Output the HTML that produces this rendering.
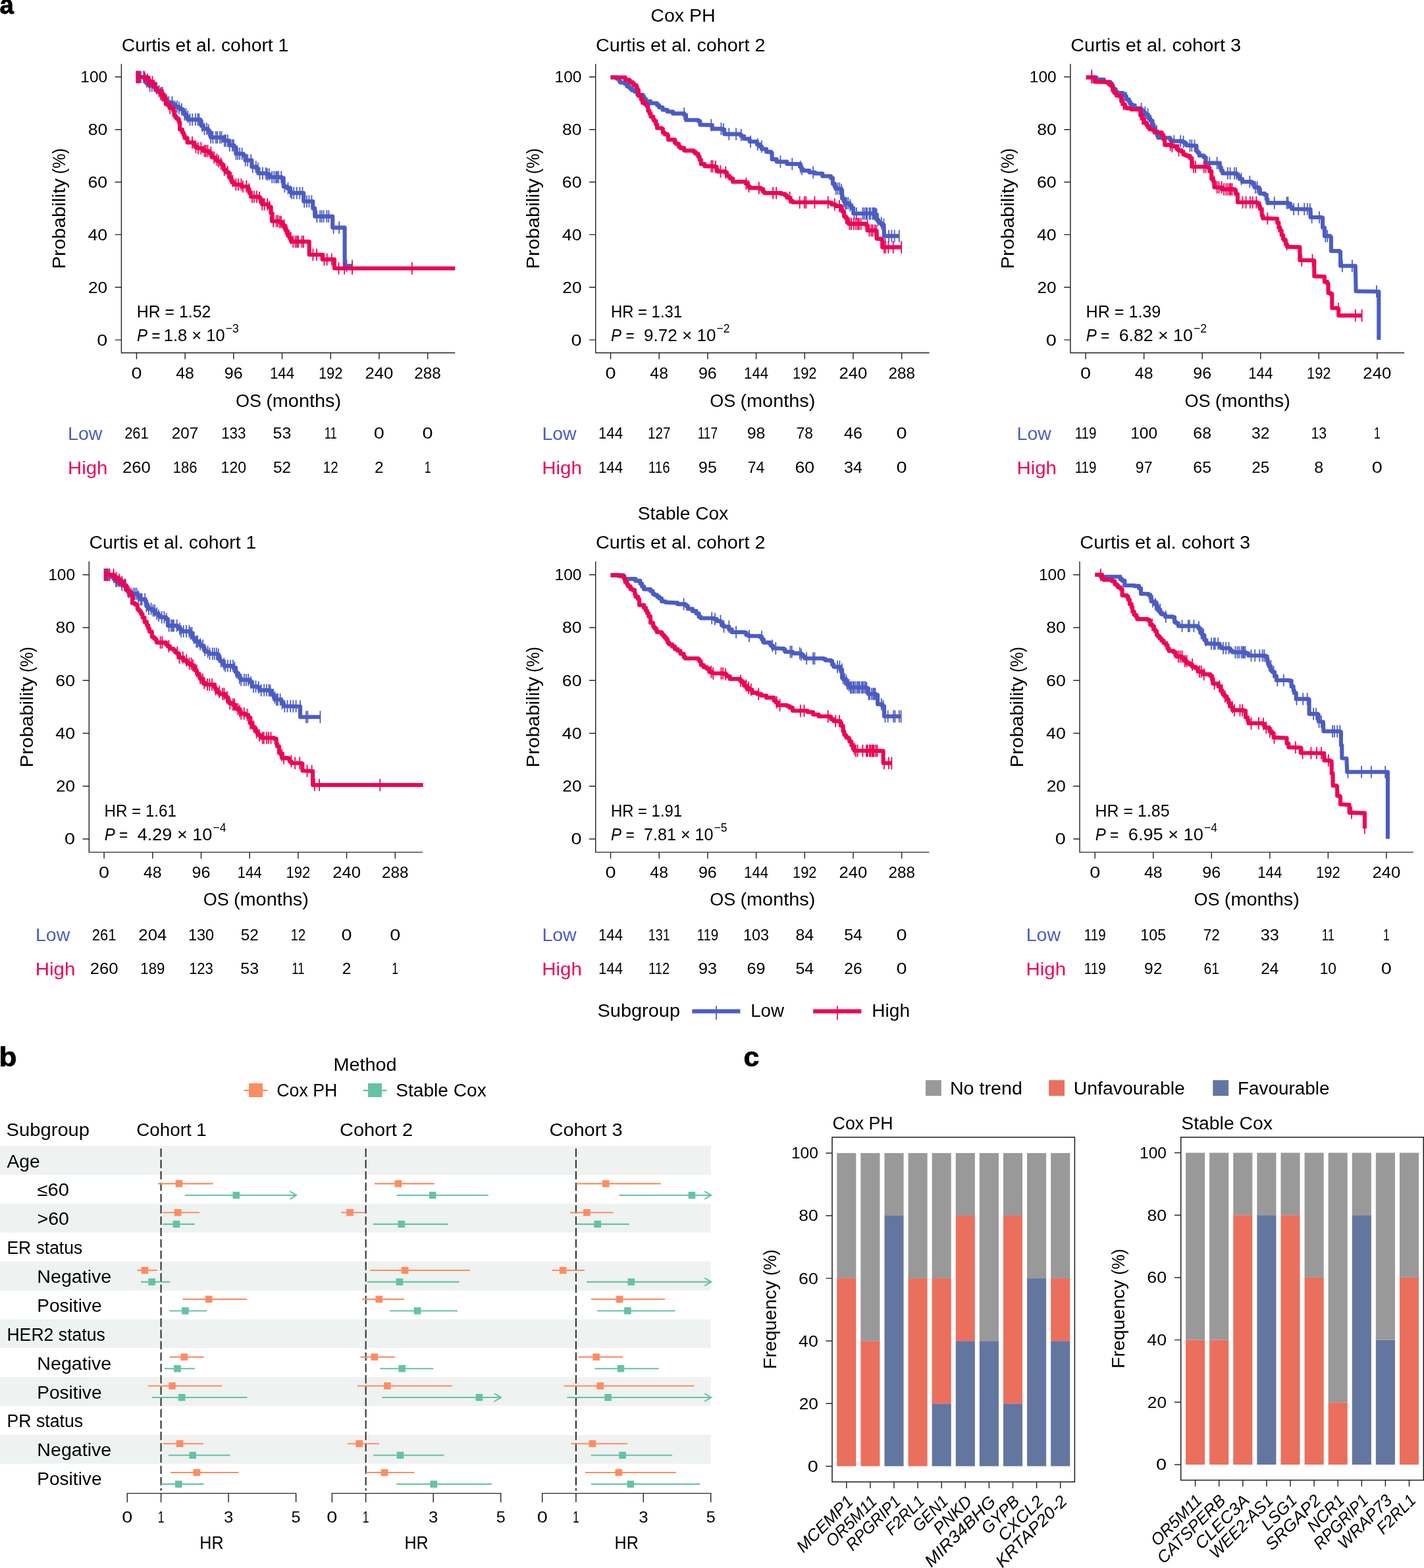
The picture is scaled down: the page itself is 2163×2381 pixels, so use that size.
<!DOCTYPE html>
<html lang="en">
<head>
<meta charset="utf-8">
<title>Figure: Cox PH versus Stable Cox</title>
<style>
html,body{margin:0;padding:0;background:#fff}
body{width:2163px;height:2381px;overflow:hidden}
svg{display:block}
text{font-family:"Liberation Sans",sans-serif}
</style>
</head>
<body>
<svg width="2163" height="2381" viewBox="0 0 2163 2381" role="img" aria-label="Kaplan-Meier curves, forest plot and frequency bar charts comparing Cox PH and Stable Cox">
<rect width="2163" height="2381" fill="#fff"/>
<text x="-0.6" y="20.6" font-size="40" textLength="21.4" lengthAdjust="spacingAndGlyphs" font-weight="bold" stroke="#000" stroke-width="0.8">a</text>
<text x="-1.6" y="1619.4" font-size="40" textLength="27" lengthAdjust="spacingAndGlyphs" font-weight="bold" stroke="#000" stroke-width="0.8">b</text>
<text x="1129.6" y="1619.3" font-size="40" textLength="23.8" lengthAdjust="spacingAndGlyphs" font-weight="bold" stroke="#000" stroke-width="0.8">c</text>
<text x="1037.5" y="33.4" font-size="27" text-anchor="middle" textLength="98.5" lengthAdjust="spacingAndGlyphs">Cox PH</text>
<text x="1037.5" y="789.3" font-size="27" text-anchor="middle" textLength="137.6" lengthAdjust="spacingAndGlyphs">Stable Cox</text>
<path d="M184.4 97.1V535.8H691.3" fill="none" stroke="#262626" stroke-width="1.45"/>
<text x="163.2" y="524.5" font-size="23.2" text-anchor="end" textLength="16.04" lengthAdjust="spacingAndGlyphs">0</text>
<text x="163.2" y="444.64" font-size="23.2" text-anchor="end" textLength="29.15" lengthAdjust="spacingAndGlyphs">20</text>
<text x="163.2" y="364.78" font-size="23.2" text-anchor="end" textLength="29.73" lengthAdjust="spacingAndGlyphs">40</text>
<text x="163.2" y="284.92" font-size="23.2" text-anchor="end" textLength="29.73" lengthAdjust="spacingAndGlyphs">60</text>
<text x="163.2" y="205.06" font-size="23.2" text-anchor="end" textLength="29.5" lengthAdjust="spacingAndGlyphs">80</text>
<text x="163.2" y="125.2" font-size="23.2" text-anchor="end" textLength="40.87" lengthAdjust="spacingAndGlyphs">100</text>
<text x="207.44" y="574.7" font-size="23.2" text-anchor="middle" textLength="16.04" lengthAdjust="spacingAndGlyphs">0</text>
<text x="281.13" y="574.7" font-size="23.2" text-anchor="middle" textLength="27.64" lengthAdjust="spacingAndGlyphs">48</text>
<text x="354.83" y="574.7" font-size="23.2" text-anchor="middle" textLength="27.88" lengthAdjust="spacingAndGlyphs">96</text>
<text x="428.52" y="574.7" font-size="23.2" text-anchor="middle" textLength="37.16" lengthAdjust="spacingAndGlyphs">144</text>
<text x="502.21" y="574.7" font-size="23.2" text-anchor="middle" textLength="36.58" lengthAdjust="spacingAndGlyphs">192</text>
<text x="575.91" y="574.7" font-size="23.2" text-anchor="middle" textLength="42.84" lengthAdjust="spacingAndGlyphs">240</text>
<text x="649.6" y="574.7" font-size="23.2" text-anchor="middle" textLength="40.52" lengthAdjust="spacingAndGlyphs">288</text>
<path d="M174.7 516.1H184.4M174.7 436.24H184.4M174.7 356.38H184.4M174.7 276.52H184.4M174.7 196.66H184.4M174.7 116.8H184.4M207.44 535.8v9.7M281.13 535.8v9.7M354.83 535.8v9.7M428.52 535.8v9.7M502.21 535.8v9.7M575.91 535.8v9.7M649.6 535.8v9.7" fill="none" stroke="#262626" stroke-width="1.45"/>
<text x="184.7" y="78.4" font-size="27" textLength="253.7" lengthAdjust="spacingAndGlyphs">Curtis et al. cohort 1</text>
<text font-size="27" transform="translate(98.8 408.6) rotate(-90)"><tspan x="0" textLength="137.7" lengthAdjust="spacingAndGlyphs">Probability</tspan><tspan x="137.4" textLength="46.1" lengthAdjust="spacingAndGlyphs"> (%)</tspan></text>
<text font-size="27" transform="translate(437.85 617.9)"><tspan x="-79.9" textLength="39" lengthAdjust="spacingAndGlyphs">OS</tspan><tspan x="-41.7" textLength="122" lengthAdjust="spacingAndGlyphs"> (months)</tspan></text>
<path d="M207.1 117L216.3 117L219.12 117L219.12 119.48L221 119.48L221 123.67L223.4 123.67L223.4 127L226.98 127L226.98 130.15L236.2 130.15L236.2 134.1L239.03 134.1L239.03 138.64L243.3 138.64L243.3 141.2L247.15 141.2L247.15 144.08L248.7 144.08L248.7 147.92L250.46 147.92L250.46 151.28L253.2 151.28L253.2 155.4L261.7 155.4L261.7 158.2L265.18 158.2L265.18 162.09L271.7 162.09L271.7 163.9L273.48 163.9L273.48 166.05L277.95 166.05L277.95 170.59L280.2 170.59L280.2 173.8L282.63 173.8L282.63 177.37L285.9 177.37L285.9 181.6L301.5 181.6L304.31 181.6L304.31 184.24L305.8 184.24L305.8 190.9L308.79 190.9L308.79 195.78L315.7 195.78L315.7 198L317.87 198L317.87 201.35L320 201.35L320 208.6L337 208.6L339.8 208.6L339.8 213.6L345.5 213.6L348.4 213.6L348.4 220.7L355.5 220.7L355.5 223.5L358.3 223.5L358.3 233.5L369.7 233.5L369.7 236.3L372.5 236.3L372.5 243.4L379.6 243.4L382.4 243.4L382.4 253.4L389.5 253.4L389.5 256.2L392.4 256.2L392.4 263.3L405.2 263.3L405.2 264.7L409.4 264.7L409.4 269L427.9 269L427.9 270.4L430.7 270.4L430.7 283.2L436.4 283.2L436.4 286L440.5 286L440.5 290.98L442.1 290.98L442.1 293.1L455 293.1L458.3 293.1L461.2 293.1L461.2 305.8L473.9 305.8L475.3 305.8L475.3 316.41L478.2 316.41L478.2 328.6L503.8 328.6L505.2 328.6L505.2 345.6L523.6 345.6L523.6 403.8L535 403.8" fill="none" stroke="#4b5cc4" stroke-width="6.1" stroke-linejoin="round"/>
<path d="M207.2 108.4v17.2M208.5 108.4v17.2M210.1 108.4v17.2M212.2 108.4v17.2M214 108.4v17.2M218.2 108.4v17.2M220.4 110.88v17.2M222.9 115.07v17.2M227.5 121.55v17.2M230.8 121.55v17.2M234.2 121.55v17.2M238.1 125.5v17.2M241.6 130.04v17.2M244.8 132.6v17.2M246.9 132.6v17.2M251.2 142.68v17.2M256.3 146.8v17.2M261.5 146.8v17.2M265.6 153.49v17.2M268.8 153.49v17.2M271.9 155.3v17.2M276.1 157.45v17.2M280.3 165.2v17.2M282.6 165.2v17.2M285.4 168.77v17.2M288.5 173v17.2M292.2 173v17.2M296.8 173v17.2M300.4 173v17.2M302.4 173v17.2M307.1 182.3v17.2M310.5 187.18v17.2M314.1 187.18v17.2M316.8 189.4v17.2M320.2 200v17.2M323.4 200v17.2M327.9 200v17.2M330.2 200v17.2M334 200v17.2M336.5 200v17.2M340.8 205v17.2M342.9 205v17.2M345.8 205v17.2M348.8 212.1v17.2M352.9 212.1v17.2M355 212.1v17.2M358.5 224.9v17.2M361.2 224.9v17.2M364.1 224.9v17.2M367.6 224.9v17.2M372.7 234.8v17.2M376.2 234.8v17.2M381.3 234.8v17.2M383.8 244.8v17.2M388.8 244.8v17.2M391.9 247.6v17.2M394.5 254.7v17.2M398.9 254.7v17.2M403.9 254.7v17.2M405.9 256.1v17.2M408.7 256.1v17.2M413.2 260.4v17.2M416.3 260.4v17.2M419.1 260.4v17.2M421.1 260.4v17.2M423.2 260.4v17.2M427.2 260.4v17.2M432.3 274.6v17.2M437.5 277.4v17.2M441.1 282.38v17.2M443.2 284.5v17.2M446.2 284.5v17.2M450.8 284.5v17.2M455.4 284.5v17.2M459.5 284.5v17.2M462.2 297.2v17.2M465.9 297.2v17.2M469.4 297.2v17.2M473.4 297.2v17.2M476.3 307.81v17.2M481.3 320v17.2M486.2 320v17.2M488.7 320v17.2M491.6 320v17.2M496.4 320v17.2M499.3 320v17.2M506.6 337v17.2M515.1 337v17.2M526.5 395.2v17.2M535 395.2v17.2" fill="none" stroke="#4b5cc4" stroke-width="1.8" stroke-linecap="round"/>
<path d="M207.1 117L216.3 117L223.4 117L223.4 121.3L226.73 121.3L226.73 124.63L231.9 124.63L231.9 127L235.22 127L235.22 133.51L237.6 133.51L237.6 136.9L239.64 136.9L239.64 139.06L243.3 139.06L243.3 142.6L245.72 142.6L245.72 144.75L250.4 144.75L250.4 148.3L251.8 148.3L251.8 158.2L255.25 158.2L255.25 160.1L257.5 160.1L257.5 163.9L263.2 163.9L263.2 168.2L264.6 168.2L264.6 175.3L266.59 175.3L266.59 178.43L268.9 178.43L268.9 180.85L271.7 180.85L271.7 185.2L273.1 185.2L273.1 196.6L276.82 196.6L276.82 201.26L278.8 201.26L278.8 205.1L280.4 205.1L280.4 209.61L284.5 209.61L284.5 216.4L294.4 216.4L294.4 219.3L296.34 219.3L296.34 223.1L300.1 223.1L300.1 225L308.6 225L308.6 229.2L317.1 229.2L317.1 232.1L320.74 232.1L320.74 236.63L322.8 236.63L322.8 239.2L327.39 239.2L327.39 242.62L329.9 242.62L329.9 244.8L334.89 244.8L334.89 248.4L337 248.4L337 250.5L339.8 250.5L339.8 257.6L342.57 257.6L342.57 261.35L346.9 261.35L346.9 263.3L349.02 263.3L349.02 270.31L351.2 270.31L351.2 274.7L353.47 274.7L353.47 277.32L355.5 277.32L355.5 280.3L366.8 280.3L366.8 283.2L376.8 283.2L376.8 287.4L378.64 287.4L378.64 292.74L381 292.74L381 298.8L393.8 298.8L393.8 300.2L395.59 300.2L395.59 303.48L398.1 303.48L398.1 310.2L408 310.2L408 314.4L411.67 314.4L411.67 324.29L413.7 324.29L413.7 330L412.9 330L412.9 335.7L424.2 335.7L424.2 337.1L428.3 337.1L428.3 340L430.25 340L430.25 342.19L431.8 342.19L431.8 346.1L434.27 346.1L434.27 349.76L435.6 349.76L435.6 354.1L437.55 354.1L437.55 357.91L439.87 357.91L439.87 361.44L442.7 361.44L442.7 366.9L468.3 366.9L469.7 366.9L469.7 386.8L486.7 386.8L489.6 386.8L489.6 393.9L506.6 393.9L508 393.9L508 407.5L691.2 407.5" fill="none" stroke="#ee0456" stroke-width="6.1" stroke-linejoin="round"/>
<path d="M207.6 108.4v17.2M209.7 108.4v17.2M211.4 108.4v17.2M219 108.4v17.2M224 112.7v17.2M226.9 116.03v17.2M227.8 116.03v17.2M231.6 116.03v17.2M244 134v17.2M246.2 136.15v17.2M247.7 136.15v17.2M258.2 155.3v17.2M292 207.8v17.2M297.4 214.5v17.2M300.8 216.4v17.2M305.3 216.4v17.2M310.6 220.6v17.2M312.8 220.6v17.2M315.4 220.6v17.2M320.3 223.5v17.2M325.2 230.6v17.2M329.5 234.02v17.2M332.1 236.2v17.2M335.6 239.8v17.2M340.7 249v17.2M345.8 252.75v17.2M350.7 261.71v17.2M353.4 266.1v17.2M358.4 271.7v17.2M361.8 271.7v17.2M366.4 271.7v17.2M368.9 274.6v17.2M374.3 274.6v17.2M378.5 278.8v17.2M383 290.2v17.2M385.9 290.2v17.2M390.1 290.2v17.2M394.1 291.6v17.2M398.2 301.6v17.2M401.6 301.6v17.2M406.1 301.6v17.2M409.4 305.8v17.2M412.5 315.69v17.2M415.2 327.1v17.2M419.6 327.1v17.2M422.1 327.1v17.2M424.9 328.5v17.2M427.2 328.5v17.2M431.5 333.59v17.2M435.5 341.16v17.2M439.5 349.31v17.2M441.7 352.84v17.2M445.3 358.3v17.2M448.6 358.3v17.2M451 358.3v17.2M453.1 358.3v17.2M458.6 358.3v17.2M461.1 358.3v17.2M475.4 378.2v17.2M481 378.2v17.2M492.4 385.3v17.2M496.7 385.3v17.2M503.8 385.3v17.2M514.5 398.9v17.2M523.1 398.9v17.2M535 398.9v17.2M625.9 398.9v17.2" fill="none" stroke="#ee0456" stroke-width="1.8" stroke-linecap="round"/>
<text x="207.84" y="481.9" font-size="26.2" textLength="112.5" lengthAdjust="spacingAndGlyphs">HR = 1.52</text>
<text x="208.04" y="517.8" font-size="26.2"><tspan font-style="italic" textLength="16" lengthAdjust="spacingAndGlyphs">P</tspan><tspan textLength="25.9" lengthAdjust="spacingAndGlyphs"> = </tspan><tspan x="248.84" textLength="92.9" lengthAdjust="spacingAndGlyphs">1.8 × 10</tspan><tspan x="342.84" font-size="18.3" dy="-13.2" textLength="20" lengthAdjust="spacingAndGlyphs">−3</tspan></text>
<text x="103.1" y="668" font-size="27" textLength="52.3" lengthAdjust="spacingAndGlyphs" fill="#4b5cc4">Low</text>
<text x="102.9" y="719.8" font-size="27" textLength="60.6" lengthAdjust="spacingAndGlyphs" fill="#ee0456">High</text>
<text x="207.44" y="666.4" font-size="23.2" text-anchor="middle" textLength="36.58" lengthAdjust="spacingAndGlyphs">261</text>
<text x="207.44" y="718.4" font-size="23.2" text-anchor="middle" textLength="42.84" lengthAdjust="spacingAndGlyphs">260</text>
<text x="281.13" y="666.4" font-size="23.2" text-anchor="middle" textLength="40.52" lengthAdjust="spacingAndGlyphs">207</text>
<text x="281.13" y="718.4" font-size="23.2" text-anchor="middle" textLength="36.92" lengthAdjust="spacingAndGlyphs">186</text>
<text x="354.83" y="666.4" font-size="23.2" text-anchor="middle" textLength="37.39" lengthAdjust="spacingAndGlyphs">133</text>
<text x="354.83" y="718.4" font-size="23.2" text-anchor="middle" textLength="38.43" lengthAdjust="spacingAndGlyphs">120</text>
<text x="428.52" y="666.4" font-size="23.2" text-anchor="middle" textLength="27.76" lengthAdjust="spacingAndGlyphs">53</text>
<text x="428.52" y="718.4" font-size="23.2" text-anchor="middle" textLength="27.06" lengthAdjust="spacingAndGlyphs">52</text>
<text x="502.21" y="666.4" font-size="23.2" text-anchor="middle" textLength="19.06" lengthAdjust="spacingAndGlyphs">11</text>
<text x="502.21" y="718.4" font-size="23.2" text-anchor="middle" textLength="22.89" lengthAdjust="spacingAndGlyphs">12</text>
<text x="575.91" y="666.4" font-size="23.2" text-anchor="middle" textLength="16.04" lengthAdjust="spacingAndGlyphs">0</text>
<text x="575.91" y="718.4" font-size="23.2" text-anchor="middle" textLength="13.61" lengthAdjust="spacingAndGlyphs">2</text>
<text x="649.6" y="666.4" font-size="23.2" text-anchor="middle" textLength="16.04" lengthAdjust="spacingAndGlyphs">0</text>
<text x="649.6" y="718.4" font-size="23.2" text-anchor="middle" textLength="9.78" lengthAdjust="spacingAndGlyphs">1</text>
<path d="M904.7 97.1V535.8H1411.5" fill="none" stroke="#262626" stroke-width="1.45"/>
<text x="883.5" y="524.5" font-size="23.2" text-anchor="end" textLength="16.04" lengthAdjust="spacingAndGlyphs">0</text>
<text x="883.5" y="444.64" font-size="23.2" text-anchor="end" textLength="29.15" lengthAdjust="spacingAndGlyphs">20</text>
<text x="883.5" y="364.78" font-size="23.2" text-anchor="end" textLength="29.73" lengthAdjust="spacingAndGlyphs">40</text>
<text x="883.5" y="284.92" font-size="23.2" text-anchor="end" textLength="29.73" lengthAdjust="spacingAndGlyphs">60</text>
<text x="883.5" y="205.06" font-size="23.2" text-anchor="end" textLength="29.5" lengthAdjust="spacingAndGlyphs">80</text>
<text x="883.5" y="125.2" font-size="23.2" text-anchor="end" textLength="40.87" lengthAdjust="spacingAndGlyphs">100</text>
<text x="927.5" y="574.7" font-size="23.2" text-anchor="middle" textLength="16.04" lengthAdjust="spacingAndGlyphs">0</text>
<text x="1001.19" y="574.7" font-size="23.2" text-anchor="middle" textLength="27.64" lengthAdjust="spacingAndGlyphs">48</text>
<text x="1074.89" y="574.7" font-size="23.2" text-anchor="middle" textLength="27.88" lengthAdjust="spacingAndGlyphs">96</text>
<text x="1148.58" y="574.7" font-size="23.2" text-anchor="middle" textLength="37.16" lengthAdjust="spacingAndGlyphs">144</text>
<text x="1222.27" y="574.7" font-size="23.2" text-anchor="middle" textLength="36.58" lengthAdjust="spacingAndGlyphs">192</text>
<text x="1295.97" y="574.7" font-size="23.2" text-anchor="middle" textLength="42.84" lengthAdjust="spacingAndGlyphs">240</text>
<text x="1369.66" y="574.7" font-size="23.2" text-anchor="middle" textLength="40.52" lengthAdjust="spacingAndGlyphs">288</text>
<path d="M895 516.1H904.7M895 436.24H904.7M895 356.38H904.7M895 276.52H904.7M895 196.66H904.7M895 116.8H904.7M927.5 535.8v9.7M1001.19 535.8v9.7M1074.89 535.8v9.7M1148.58 535.8v9.7M1222.27 535.8v9.7M1295.97 535.8v9.7M1369.66 535.8v9.7" fill="none" stroke="#262626" stroke-width="1.45"/>
<text x="905" y="78.4" font-size="27" textLength="257.4" lengthAdjust="spacingAndGlyphs">Curtis et al. cohort 2</text>
<text font-size="27" transform="translate(819.1 408.6) rotate(-90)"><tspan x="0" textLength="137.7" lengthAdjust="spacingAndGlyphs">Probability</tspan><tspan x="137.4" textLength="46.1" lengthAdjust="spacingAndGlyphs"> (%)</tspan></text>
<text font-size="27" transform="translate(1158.1 617.9)"><tspan x="-79.9" textLength="39" lengthAdjust="spacingAndGlyphs">OS</tspan><tspan x="-41.7" textLength="122" lengthAdjust="spacingAndGlyphs"> (months)</tspan></text>
<path d="M927.5 117.5L936.9 117.5L936.9 119.8L940.84 119.8L940.84 123.8L942.6 123.8L942.6 125.5L949.3 125.5L949.3 127.28L952.5 127.28L952.5 131.2L956.34 131.2L956.34 133.85L959.6 133.85L959.6 136.9L964.02 136.9L964.02 139.27L968.2 139.27L968.2 144L976.7 144L976.7 146.8L978.22 146.8L978.22 150.17L980.9 150.17L980.9 153.9L988 153.9L988 156.7L998 156.7L998 159.6L1001.18 159.6L1001.18 163.01L1006.5 163.01L1006.5 166.7L1013.6 166.7L1013.6 169.5L1022.1 169.5L1022.1 172.4L1039.2 172.4L1039.2 174.6L1042 174.6L1042 182.3L1060.5 182.3L1060.5 183.7L1063.3 183.7L1063.3 189.4L1078.9 190L1081.8 190L1081.8 195.6L1097.4 195.6L1097.4 196.5L1100.2 196.5L1100.2 203.6L1124.4 203.6L1124.4 205L1126 205L1126 206.79L1130 206.79L1130 210.7L1138.6 210.7L1138.6 215L1149.9 215L1149.9 219.2L1154.12 219.2L1154.12 222.5L1157 222.5L1157 226.3L1164.1 226.3L1164.1 230.6L1171.2 230.6L1171.2 232L1172.6 232L1172.6 241.9L1179.7 241.9L1179.7 245.6L1195.4 245.6L1195.4 249L1215.2 249L1215.2 253.3L1217.37 253.3L1217.37 256.75L1219.5 256.75L1219.5 259L1229.4 259L1229.4 261.8L1238.09 261.8L1238.09 263.52L1249.3 263.52L1249.3 267.5L1262.1 267.5L1262.1 270.3L1264.9 270.3L1264.9 278.9L1267.6 278.9L1267.6 283L1269.2 283L1269.2 286.5L1277.7 286.5L1277.7 288.8L1279.1 288.8L1279.1 301.6L1281.56 301.6L1281.56 305.54L1283.4 305.54L1283.4 308.7L1290.45 308.7L1290.45 311.81L1293.3 311.81L1293.3 315.8L1296.2 315.8L1296.2 324.3L1328.8 324.3L1328.8 325.7L1331.7 325.7L1331.7 333.7L1334.18 333.7L1334.18 337.05L1336.73 337.05L1336.73 338.75L1338.8 338.75L1338.8 341.3L1342.5 341.3L1342.5 342.8L1343 358.4L1365.8 358.4" fill="none" stroke="#4b5cc4" stroke-width="6.1" stroke-linejoin="round"/>
<path d="M1039.2 163.8v17.2M1080.3 181.4v17.2M1095.4 187v17.2M1098.8 187.9v17.2M1107.3 195v17.2M1118.1 195v17.2M1125.8 196.4v17.2M1140 206.4v17.2M1150.8 210.6v17.2M1157 213.9v17.2M1185.4 237v17.2M1203.3 240.4v17.2M1215.8 244.7v17.2M1218.1 248.15v17.2M1235.1 253.2v17.2M1269.8 277.9v17.2M1272.6 277.9v17.2M1275.4 277.9v17.2M1278.3 280.2v17.2M1282 296.94v17.2M1284.2 300.1v17.2M1285.8 300.1v17.2M1288.3 300.1v17.2M1291.4 303.21v17.2M1297.6 315.7v17.2M1301 315.7v17.2M1310.4 315.7v17.2M1312.7 315.7v17.2M1315.4 315.7v17.2M1317.1 315.7v17.2M1320.3 315.7v17.2M1322.3 315.7v17.2M1325.4 315.7v17.2M1327.1 315.7v17.2M1328.7 315.7v17.2M1330.2 317.1v17.2M1331.6 317.1v17.2M1333.6 325.1v17.2M1338.8 330.15v17.2M1342.5 332.7v17.2M1344.5 349.8v17.2M1350.1 349.8v17.2M1354.4 349.8v17.2M1358.7 349.8v17.2M1365.8 349.8v17.2" fill="none" stroke="#4b5cc4" stroke-width="1.8" stroke-linecap="round"/>
<path d="M927.5 117.5L944 117.5L949.7 117.5L949.7 121.2L956.49 121.2L956.49 124.92L961.1 124.92L961.1 126.9L962.99 126.9L962.99 129.61L966.89 129.61L966.89 133.59L968.2 133.59L968.2 136.9L969.97 136.9L969.97 145.65L973.8 145.65L973.8 151.1L975.96 151.1L975.96 156.14L979.69 156.14L979.69 158.14L982.4 158.14L982.4 161L984.39 161L984.39 168.58L986.6 168.58L986.6 172.4L988.27 172.4L988.27 177.1L992.36 177.1L992.36 181.42L993.7 181.42L993.7 183.7L996.31 183.7L996.31 188.83L998 188.83L998 194.5L1005.1 194.5L1005.1 195.6L1006.83 195.6L1006.83 201.23L1009.3 201.23L1009.3 203.6L1013.6 203.6L1013.6 205.9L1015 205.9L1015 212.1L1025 212.1L1025 216.4L1026.88 216.4L1026.88 218.56L1031.03 218.56L1031.03 222.74L1033.5 222.74L1033.5 224.9L1039.2 224.9L1039.2 228.6L1053.4 228.6L1053.4 230.6L1056.4 230.6L1056.4 233.53L1060.5 233.53L1060.5 237.7L1062.68 237.7L1062.68 242.67L1064.7 242.67L1064.7 249L1070.4 249L1070.4 252.4L1084.6 252.4L1084.6 253.3L1088.46 253.3L1088.46 258.21L1090.3 258.21L1090.3 260.4L1101.6 260.4L1101.6 261.8L1103.98 261.8L1103.98 266.61L1107.3 266.61L1107.3 268.9L1109.05 268.9L1109.05 271.16L1113 271.16L1113 276L1132.9 276L1132.9 278.9L1136.17 278.9L1136.17 283.02L1138.6 283.02L1138.6 285.4L1155.6 285.4L1155.6 287.4L1159.27 287.4L1159.27 291.51L1161.3 291.51L1161.3 293.1L1186.8 293.1L1186.8 294.5L1192.49 294.5L1192.49 296.75L1195.4 296.75L1195.4 300.2L1200.58 300.2L1200.58 305.11L1203.9 305.11L1203.9 307.3L1260.7 307.3L1260.7 308.1L1263.4 308.1L1263.4 310.49L1269.2 310.49L1269.2 312.9L1277.7 312.9L1277.7 317.2L1279.18 317.2L1279.18 321.07L1282 321.07L1282 328.6L1284.83 328.6L1284.83 331.34L1286.75 331.34L1286.75 337.69L1289.1 337.69L1289.1 339.9L1316.1 339.9L1316.1 342.8L1317.5 342.8L1317.5 349.9L1330.3 349.9L1330.3 350.7L1331.7 350.7L1331.7 362.6L1338.8 362.6L1338.8 364.1L1340.2 364.1L1340.2 375.4L1368.6 375.4" fill="none" stroke="#ee0456" stroke-width="6.1" stroke-linejoin="round"/>
<path d="M1080.3 243.8v17.2M1082.6 243.8v17.2M1086.9 244.7v17.2M1094.5 251.8v17.2M1102.2 253.2v17.2M1133.4 270.3v17.2M1137.4 274.42v17.2M1152.8 276.8v17.2M1174.1 284.5v17.2M1179.2 284.5v17.2M1199.6 291.6v17.2M1214.7 298.7v17.2M1221.8 298.7v17.2M1224.3 298.7v17.2M1237.4 298.7v17.2M1257.8 298.7v17.2M1267.8 301.89v17.2M1274.9 304.3v17.2M1290.5 331.3v17.2M1293.1 331.3v17.2M1296.9 331.3v17.2M1300.1 331.3v17.2M1302.8 331.3v17.2M1304.8 331.3v17.2M1307.7 331.3v17.2M1317.5 334.2v17.2M1320.4 341.3v17.2M1323.4 341.3v17.2M1325.7 341.3v17.2M1329 341.3v17.2M1331.4 342.1v17.2M1343 366.8v17.2M1345.3 366.8v17.2M1349.3 366.8v17.2M1356.7 366.8v17.2M1369.2 366.8v17.2" fill="none" stroke="#ee0456" stroke-width="1.8" stroke-linecap="round"/>
<text x="927.9" y="481.9" font-size="26.2" textLength="108.2" lengthAdjust="spacingAndGlyphs">HR = 1.31</text>
<text x="928.1" y="517.8" font-size="26.2"><tspan font-style="italic" textLength="16" lengthAdjust="spacingAndGlyphs">P</tspan><tspan textLength="25.9" lengthAdjust="spacingAndGlyphs"> = </tspan><tspan x="978.1" textLength="109.3" lengthAdjust="spacingAndGlyphs">9.72 × 10</tspan><tspan x="1088.5" font-size="18.3" dy="-13.2" textLength="20" lengthAdjust="spacingAndGlyphs">−2</tspan></text>
<text x="823.4" y="668" font-size="27" textLength="52.3" lengthAdjust="spacingAndGlyphs" fill="#4b5cc4">Low</text>
<text x="823.2" y="719.8" font-size="27" textLength="60.6" lengthAdjust="spacingAndGlyphs" fill="#ee0456">High</text>
<text x="927.5" y="666.4" font-size="23.2" text-anchor="middle" textLength="37.16" lengthAdjust="spacingAndGlyphs">144</text>
<text x="927.5" y="718.4" font-size="23.2" text-anchor="middle" textLength="37.16" lengthAdjust="spacingAndGlyphs">144</text>
<text x="1001.19" y="666.4" font-size="23.2" text-anchor="middle" textLength="34.26" lengthAdjust="spacingAndGlyphs">127</text>
<text x="1001.19" y="718.4" font-size="23.2" text-anchor="middle" textLength="32.75" lengthAdjust="spacingAndGlyphs">116</text>
<text x="1074.89" y="666.4" font-size="23.2" text-anchor="middle" textLength="30.43" lengthAdjust="spacingAndGlyphs">117</text>
<text x="1074.89" y="718.4" font-size="23.2" text-anchor="middle" textLength="27.64" lengthAdjust="spacingAndGlyphs">95</text>
<text x="1148.58" y="666.4" font-size="23.2" text-anchor="middle" textLength="27.64" lengthAdjust="spacingAndGlyphs">98</text>
<text x="1148.58" y="718.4" font-size="23.2" text-anchor="middle" textLength="25.56" lengthAdjust="spacingAndGlyphs">74</text>
<text x="1222.27" y="666.4" font-size="23.2" text-anchor="middle" textLength="25.32" lengthAdjust="spacingAndGlyphs">78</text>
<text x="1222.27" y="718.4" font-size="23.2" text-anchor="middle" textLength="29.73" lengthAdjust="spacingAndGlyphs">60</text>
<text x="1295.97" y="666.4" font-size="23.2" text-anchor="middle" textLength="27.88" lengthAdjust="spacingAndGlyphs">46</text>
<text x="1295.97" y="718.4" font-size="23.2" text-anchor="middle" textLength="27.99" lengthAdjust="spacingAndGlyphs">34</text>
<text x="1369.66" y="666.4" font-size="23.2" text-anchor="middle" textLength="16.04" lengthAdjust="spacingAndGlyphs">0</text>
<text x="1369.66" y="718.4" font-size="23.2" text-anchor="middle" textLength="16.04" lengthAdjust="spacingAndGlyphs">0</text>
<path d="M1625.9 97.1V535.8H2133.1" fill="none" stroke="#262626" stroke-width="1.45"/>
<text x="1604.7" y="524.5" font-size="23.2" text-anchor="end" textLength="16.04" lengthAdjust="spacingAndGlyphs">0</text>
<text x="1604.7" y="444.64" font-size="23.2" text-anchor="end" textLength="29.15" lengthAdjust="spacingAndGlyphs">20</text>
<text x="1604.7" y="364.78" font-size="23.2" text-anchor="end" textLength="29.73" lengthAdjust="spacingAndGlyphs">40</text>
<text x="1604.7" y="284.92" font-size="23.2" text-anchor="end" textLength="29.73" lengthAdjust="spacingAndGlyphs">60</text>
<text x="1604.7" y="205.06" font-size="23.2" text-anchor="end" textLength="29.5" lengthAdjust="spacingAndGlyphs">80</text>
<text x="1604.7" y="125.2" font-size="23.2" text-anchor="end" textLength="40.87" lengthAdjust="spacingAndGlyphs">100</text>
<text x="1649.1" y="574.7" font-size="23.2" text-anchor="middle" textLength="16.04" lengthAdjust="spacingAndGlyphs">0</text>
<text x="1737.64" y="574.7" font-size="23.2" text-anchor="middle" textLength="27.64" lengthAdjust="spacingAndGlyphs">48</text>
<text x="1826.18" y="574.7" font-size="23.2" text-anchor="middle" textLength="27.88" lengthAdjust="spacingAndGlyphs">96</text>
<text x="1914.72" y="574.7" font-size="23.2" text-anchor="middle" textLength="37.16" lengthAdjust="spacingAndGlyphs">144</text>
<text x="2003.26" y="574.7" font-size="23.2" text-anchor="middle" textLength="36.58" lengthAdjust="spacingAndGlyphs">192</text>
<text x="2091.8" y="574.7" font-size="23.2" text-anchor="middle" textLength="42.84" lengthAdjust="spacingAndGlyphs">240</text>
<path d="M1616.2 516.1H1625.9M1616.2 436.24H1625.9M1616.2 356.38H1625.9M1616.2 276.52H1625.9M1616.2 196.66H1625.9M1616.2 116.8H1625.9M1649.1 535.8v9.7M1737.64 535.8v9.7M1826.18 535.8v9.7M1914.72 535.8v9.7M2003.26 535.8v9.7M2091.8 535.8v9.7" fill="none" stroke="#262626" stroke-width="1.45"/>
<text x="1626.2" y="78.4" font-size="27" textLength="258.9" lengthAdjust="spacingAndGlyphs">Curtis et al. cohort 3</text>
<text font-size="27" transform="translate(1540.3 408.6) rotate(-90)"><tspan x="0" textLength="137.7" lengthAdjust="spacingAndGlyphs">Probability</tspan><tspan x="137.4" textLength="46.1" lengthAdjust="spacingAndGlyphs"> (%)</tspan></text>
<text font-size="27" transform="translate(1879.5 617.9)"><tspan x="-79.9" textLength="39" lengthAdjust="spacingAndGlyphs">OS</tspan><tspan x="-41.7" textLength="122" lengthAdjust="spacingAndGlyphs"> (months)</tspan></text>
<path d="M1649.8 117.5L1665.4 117.5L1665.4 120.7L1676.8 120.7L1676.8 124.6L1686.7 124.6L1686.7 126.9L1688.91 126.9L1688.91 131.48L1691 131.48L1691 135.4L1694.73 135.4L1694.73 139.27L1696.7 139.27L1696.7 141.1L1705.2 141.1L1705.2 142.5L1709.03 142.5L1709.03 146.28L1710.9 146.28L1710.9 151.1L1714.9 151.1L1714.9 154.41L1716.6 154.41L1716.6 158.2L1719.53 158.2L1719.53 160.17L1723.7 160.17L1723.7 164.4L1732.2 164.4L1732.2 165.3L1734 165.3L1734 167.91L1736.44 167.91L1736.44 170.75L1739.3 170.75L1739.3 173.8L1743.73 173.8L1743.73 178.16L1746.4 178.16L1746.4 180.9L1747.72 180.9L1747.72 183.47L1750.6 183.47L1750.6 189.4L1752.28 189.4L1752.28 194.58L1754.9 194.58L1754.9 199.3L1757.71 199.3L1757.71 205.65L1759.2 205.65L1759.2 209.3L1773.4 209.3L1777.29 209.3L1777.29 212.05L1779 212.05L1779 214.4L1796.1 214.4L1796.1 215.5L1799.3 215.5L1799.3 217.57L1801.8 217.57L1801.8 220.6L1814.5 221.2L1817.4 221.2L1817.4 229.2L1819.15 229.2L1819.15 231.81L1821.6 231.81L1821.6 236.3L1828.7 236.3L1828.7 239.1L1831.6 239.1L1831.6 247.6L1850 247.6L1852.9 247.6L1852.9 254.7L1855.07 254.7L1855.07 259.36L1857.1 259.36L1857.1 263.2L1878.4 263.2L1878.4 264.7L1880.69 264.7L1880.69 267.9L1882.7 267.9L1882.7 271.8L1887 271.8L1887 276L1901.2 276L1901.2 277.4L1903.16 277.4L1903.16 280.15L1905.4 280.15L1905.4 284.5L1912.5 284.5L1912.5 287.4L1913.9 287.4L1913.9 293.9L1921 293.9L1921 295.9L1923.76 295.9L1923.76 302.44L1925.3 302.44L1925.3 308.1L1956.5 308.1L1956.5 309.2L1959.99 309.2L1959.99 314.32L1962.2 314.32L1962.2 317.2L1987.8 317.8L1990.6 317.8L1990.6 330L2007.7 330L2007.7 330.8L2009.1 330.8L2009.1 345.6L2011.9 345.6L2011.9 358.4L2020.4 358.4L2020.4 359.8L2021.9 359.8L2021.9 381.1L2034.6 381.1L2034.6 382.5L2036.1 382.5L2036.1 403.8L2058.8 403.8L2058.8 404.7L2059.6 442.2L2094.3 442.7L2094.3 516" fill="none" stroke="#4b5cc4" stroke-width="6.1" stroke-linejoin="round"/>
<path d="M1733.6 156.7v17.2M1739.3 162.15v17.2M1743.5 165.2v17.2M1747.8 174.87v17.2M1756.9 190.7v17.2M1783.3 205.8v17.2M1793.2 205.8v17.2M1797.5 206.9v17.2M1807.4 212.3v17.2M1810.3 212.3v17.2M1814.5 212.6v17.2M1837.3 239v17.2M1848.6 239v17.2M1864.8 254.6v17.2M1868.5 254.6v17.2M1875 254.6v17.2M1877.9 254.6v17.2M1885.5 263.2v17.2M1898.3 267.4v17.2M1906.8 275.9v17.2M1909.7 275.9v17.2M1925.3 293.84v17.2M1935.8 299.5v17.2M1954.5 299.5v17.2M1956.5 299.5v17.2M1965.1 308.9v17.2M1972.2 308.9v17.2M1981.2 308.9v17.2M1985.8 308.9v17.2M1989.8 309.2v17.2M1992.6 321.4v17.2M2004 321.4v17.2M2010.5 337v17.2M2013.3 349.8v17.2M2016.2 349.8v17.2M2038.9 395.2v17.2M2053.9 395.2v17.2M2090.9 433.85v17.2M1658.3 106.5v19" fill="none" stroke="#4b5cc4" stroke-width="1.8" stroke-linecap="round"/>
<path d="M1649.8 117.5L1659.8 117.5L1662.6 117.5L1662.6 124.1L1681.1 124.6L1684.02 124.6L1684.02 127.79L1686.7 127.79L1686.7 129.8L1690.18 129.8L1690.18 137.31L1692.4 137.31L1692.4 141.1L1695.83 141.1L1695.83 145.14L1700.9 145.14L1700.9 146.8L1703.18 146.8L1703.18 153.77L1705.2 153.77L1705.2 158.2L1708.7 158.2L1708.7 162.5L1710.9 162.5L1710.9 164.4L1718 164.4L1718 166.1L1729.3 166.1L1732.2 166.1L1732.2 175.2L1734.47 175.2L1734.47 180.22L1737.9 180.22L1737.9 186.6L1741.7 186.6L1741.7 190.04L1743.76 190.04L1743.76 193.57L1746.4 193.57L1746.4 196.5L1751.4 196.5L1751.4 197.84L1753.5 197.84L1753.5 201.3L1764.8 201.3L1764.8 205L1767.38 205L1767.38 211.7L1769.1 211.7L1769.1 220.1L1779 220.1L1779 222.1L1787.6 222.1L1787.6 226.3L1789.53 226.3L1789.53 228.06L1794.24 228.06L1794.24 230.31L1797.5 230.31L1797.5 234.8L1801.67 234.8L1801.67 236.6L1807.4 236.6L1807.4 240L1810.3 240L1810.3 253.3L1835.8 253.3L1835.8 254.7L1837.3 254.7L1837.3 259.97L1840.1 259.97L1840.1 271.8L1842.92 271.8L1842.92 275.77L1844.4 275.77L1844.4 284.5L1855.7 284.5L1855.7 287.4L1875.6 287.4L1875.6 288.8L1877.09 288.8L1877.09 294.53L1879.9 294.53L1879.9 307.3L1909.7 307.3L1909.7 308.7L1912.57 308.7L1912.57 313.13L1913.9 313.13L1913.9 317.2L1916.67 317.2L1916.67 327.32L1918.2 327.32L1918.2 331.4L1938.1 332L1940.19 332L1940.19 338.16L1942.3 338.16L1942.3 345.6L1944.24 345.6L1944.24 350.09L1946.6 350.09L1946.6 357L1948.93 357L1948.93 363.03L1950.9 363.03L1950.9 365.5L1953.01 365.5L1953.01 371.1L1955.1 371.1L1955.1 374.6L1973.6 375.4L1974.4 375.4L1974.4 395.3L1995.4 395.3L1995.4 396.1L1996.3 396.1L1996.3 419.4L2010.5 420L2011.9 420L2011.9 428L2016.2 428L2016.2 430.8L2017.6 430.8L2017.6 445L2021 445L2021 446.4L2023.3 446.4L2023.3 467.7L2031.8 467.7L2031.8 469.1L2033.2 469.1L2033.2 479.1L2068.7 479.1" fill="none" stroke="#ee0456" stroke-width="6.1" stroke-linejoin="round"/>
<path d="M1658.3 108.9v17.2M1706.6 149.6v17.2M1735 171.62v17.2M1777.6 211.5v17.2M1780.5 213.5v17.2M1790.4 219.46v17.2M1813.1 244.7v17.2M1816 244.7v17.2M1828.7 244.7v17.2M1831.6 244.7v17.2M1844.4 267.17v17.2M1848.6 275.9v17.2M1851.5 275.9v17.2M1855.7 275.9v17.2M1859.1 278.8v17.2M1862.3 278.8v17.2M1865.2 278.8v17.2M1867.8 278.8v17.2M1869.4 278.8v17.2M1871.6 278.8v17.2M1887.5 298.7v17.2M1892.6 298.7v17.2M1898.9 298.7v17.2M1902.6 298.7v17.2M1908.3 298.7v17.2M1925.3 323.1v17.2M1954.5 362.5v17.2M1977.3 386.7v17.2M1993.5 386.7v17.2M2033.2 460.5v17.2M2058.8 470.5v17.2M2068.7 470.5v17.2" fill="none" stroke="#ee0456" stroke-width="1.8" stroke-linecap="round"/>
<text x="1649.5" y="481.9" font-size="26.2" textLength="113.8" lengthAdjust="spacingAndGlyphs">HR = 1.39</text>
<text x="1649.7" y="517.8" font-size="26.2"><tspan font-style="italic" textLength="16" lengthAdjust="spacingAndGlyphs">P</tspan><tspan textLength="25.9" lengthAdjust="spacingAndGlyphs"> = </tspan><tspan x="1699.7" textLength="112.1" lengthAdjust="spacingAndGlyphs">6.82 × 10</tspan><tspan x="1812.9" font-size="18.3" dy="-13.2" textLength="20" lengthAdjust="spacingAndGlyphs">−2</tspan></text>
<text x="1544.6" y="668" font-size="27" textLength="52.3" lengthAdjust="spacingAndGlyphs" fill="#4b5cc4">Low</text>
<text x="1544.4" y="719.8" font-size="27" textLength="60.6" lengthAdjust="spacingAndGlyphs" fill="#ee0456">High</text>
<text x="1649.1" y="666.4" font-size="23.2" text-anchor="middle" textLength="32.75" lengthAdjust="spacingAndGlyphs">119</text>
<text x="1649.1" y="718.4" font-size="23.2" text-anchor="middle" textLength="32.75" lengthAdjust="spacingAndGlyphs">119</text>
<text x="1737.64" y="666.4" font-size="23.2" text-anchor="middle" textLength="40.87" lengthAdjust="spacingAndGlyphs">100</text>
<text x="1737.64" y="718.4" font-size="23.2" text-anchor="middle" textLength="25.56" lengthAdjust="spacingAndGlyphs">97</text>
<text x="1826.18" y="666.4" font-size="23.2" text-anchor="middle" textLength="27.64" lengthAdjust="spacingAndGlyphs">68</text>
<text x="1826.18" y="718.4" font-size="23.2" text-anchor="middle" textLength="27.64" lengthAdjust="spacingAndGlyphs">65</text>
<text x="1914.72" y="666.4" font-size="23.2" text-anchor="middle" textLength="27.41" lengthAdjust="spacingAndGlyphs">32</text>
<text x="1914.72" y="718.4" font-size="23.2" text-anchor="middle" textLength="27.06" lengthAdjust="spacingAndGlyphs">25</text>
<text x="2003.26" y="666.4" font-size="23.2" text-anchor="middle" textLength="23.58" lengthAdjust="spacingAndGlyphs">13</text>
<text x="2003.26" y="718.4" font-size="23.2" text-anchor="middle" textLength="13.96" lengthAdjust="spacingAndGlyphs">8</text>
<text x="2091.8" y="666.4" font-size="23.2" text-anchor="middle" textLength="9.78" lengthAdjust="spacingAndGlyphs">1</text>
<text x="2091.8" y="718.4" font-size="23.2" text-anchor="middle" textLength="16.04" lengthAdjust="spacingAndGlyphs">0</text>
<path d="M135.3 852.6V1294.1H641.8" fill="none" stroke="#262626" stroke-width="1.45"/>
<text x="114.1" y="1282.4" font-size="23.2" text-anchor="end" textLength="16.04" lengthAdjust="spacingAndGlyphs">0</text>
<text x="114.1" y="1202.14" font-size="23.2" text-anchor="end" textLength="29.15" lengthAdjust="spacingAndGlyphs">20</text>
<text x="114.1" y="1121.88" font-size="23.2" text-anchor="end" textLength="29.73" lengthAdjust="spacingAndGlyphs">40</text>
<text x="114.1" y="1041.62" font-size="23.2" text-anchor="end" textLength="29.73" lengthAdjust="spacingAndGlyphs">60</text>
<text x="114.1" y="961.36" font-size="23.2" text-anchor="end" textLength="29.5" lengthAdjust="spacingAndGlyphs">80</text>
<text x="114.1" y="881.1" font-size="23.2" text-anchor="end" textLength="40.87" lengthAdjust="spacingAndGlyphs">100</text>
<text x="158.1" y="1333" font-size="23.2" text-anchor="middle" textLength="16.04" lengthAdjust="spacingAndGlyphs">0</text>
<text x="231.79" y="1333" font-size="23.2" text-anchor="middle" textLength="27.64" lengthAdjust="spacingAndGlyphs">48</text>
<text x="305.49" y="1333" font-size="23.2" text-anchor="middle" textLength="27.88" lengthAdjust="spacingAndGlyphs">96</text>
<text x="379.18" y="1333" font-size="23.2" text-anchor="middle" textLength="37.16" lengthAdjust="spacingAndGlyphs">144</text>
<text x="452.87" y="1333" font-size="23.2" text-anchor="middle" textLength="36.58" lengthAdjust="spacingAndGlyphs">192</text>
<text x="526.57" y="1333" font-size="23.2" text-anchor="middle" textLength="42.84" lengthAdjust="spacingAndGlyphs">240</text>
<text x="600.26" y="1333" font-size="23.2" text-anchor="middle" textLength="40.52" lengthAdjust="spacingAndGlyphs">288</text>
<path d="M125.6 1274H135.3M125.6 1193.74H135.3M125.6 1113.48H135.3M125.6 1033.22H135.3M125.6 952.96H135.3M125.6 872.7H135.3M158.1 1294.1v9.7M231.79 1294.1v9.7M305.49 1294.1v9.7M379.18 1294.1v9.7M452.87 1294.1v9.7M526.57 1294.1v9.7M600.26 1294.1v9.7" fill="none" stroke="#262626" stroke-width="1.45"/>
<text x="135.6" y="832.7" font-size="27" textLength="253.7" lengthAdjust="spacingAndGlyphs">Curtis et al. cohort 1</text>
<text font-size="27" transform="translate(49.7 1165.5) rotate(-90)"><tspan x="0" textLength="137.7" lengthAdjust="spacingAndGlyphs">Probability</tspan><tspan x="137.4" textLength="46.1" lengthAdjust="spacingAndGlyphs"> (%)</tspan></text>
<text font-size="27" transform="translate(388.55 1375.3)"><tspan x="-79.9" textLength="39" lengthAdjust="spacingAndGlyphs">OS</tspan><tspan x="-41.7" textLength="122" lengthAdjust="spacingAndGlyphs"> (months)</tspan></text>
<path d="M158.4 872.8L166.9 872.8L169.16 872.8L169.16 875.92L172.6 875.92L172.6 879.1L175.25 879.1L175.25 882.13L181.1 882.13L181.1 886.2L184.18 886.2L184.18 888.19L191.1 888.19L191.1 893.3L192.78 893.3L192.78 896.05L194.61 896.05L194.61 899.26L198.2 899.26L198.2 901.8L209.5 901.8L209.5 906.1L212.82 906.1L212.82 910.05L220.9 910.05L220.9 913.2L222.31 913.2L222.31 920.35L225.1 920.35L225.1 924.5L231.17 924.5L231.17 927.13L235.1 927.13L235.1 931.6L240.68 931.6L240.68 935.01L243.6 935.01L243.6 937.3L252.1 937.3L252.1 940.1L255 940.1L255 950.1L269.2 950.1L269.2 951.5L270.93 951.5L270.93 954.76L274.8 954.76L274.8 958.6L289 958.6L289 961.4L292.36 961.4L292.36 968.3L294.7 968.3L294.7 971.4L297.7 971.4L297.7 974.16L303.2 974.16L303.2 978.5L304.75 978.5L304.75 980.51L308.56 980.51L308.56 983.22L310.47 983.22L310.47 986.98L311.8 986.98L311.8 989.8L317.4 989.8L317.4 992.7L330.2 992.7L330.2 994.1L332.13 994.1L332.13 1000.73L334.5 1000.73L334.5 1004L337.98 1004L337.98 1008.06L340.2 1008.06L340.2 1011.1L354.4 1011.1L354.4 1014L358.13 1014L358.13 1020.83L360 1020.83L360 1025.3L363.65 1025.3L363.65 1029.31L365.7 1029.31L365.7 1032.4L378.5 1032.4L378.5 1033.9L380.83 1033.9L380.83 1036.47L382.8 1036.47L382.8 1042.4L391.3 1042.4L391.3 1043.8L394.1 1043.8L394.1 1048.1L409.7 1048.1L409.7 1048.9L412.64 1048.9L412.64 1053.22L414 1053.22L414 1055.2L415.86 1055.2L415.86 1059.15L418.3 1059.15L418.3 1062.3L426.8 1062.3L426.8 1063.7L427.99 1063.7L427.99 1067.95L431 1067.95L431 1072.2L452.3 1072.8L456 1072.8L456 1088.7L486.4 1088.7" fill="none" stroke="#4b5cc4" stroke-width="6.1" stroke-linejoin="round"/>
<path d="M158.4 864.2v17.2M160.5 864.2v17.2M162.1 864.2v17.2M163.8 864.2v17.2M166.3 864.2v17.2M172.6 867.32v17.2M175.8 873.53v17.2M177.8 873.53v17.2M180.8 873.53v17.2M185.2 879.59v17.2M188.9 879.59v17.2M190.8 879.59v17.2M195.1 890.66v17.2M198.9 893.2v17.2M202.3 893.2v17.2M204.9 893.2v17.2M207.6 893.2v17.2M210 897.5v17.2M213.7 901.45v17.2M215.6 901.45v17.2M220.2 901.45v17.2M222.4 911.75v17.2M226 915.9v17.2M229.6 915.9v17.2M232.5 918.53v17.2M235.1 918.53v17.2M238.2 923v17.2M241 926.41v17.2M245.7 928.7v17.2M249.4 928.7v17.2M252.8 931.5v17.2M256.6 941.5v17.2M259.9 941.5v17.2M262.1 941.5v17.2M264 941.5v17.2M268.7 941.5v17.2M273 946.16v17.2M275.1 950v17.2M278.7 950v17.2M282.9 950v17.2M287.4 950v17.2M289.4 952.8v17.2M291.6 952.8v17.2M294.6 959.7v17.2M298.2 965.56v17.2M300.2 965.56v17.2M304.1 969.9v17.2M308.2 971.91v17.2M311.3 978.38v17.2M315.6 981.2v17.2M318.6 984.1v17.2M322.9 984.1v17.2M325.8 984.1v17.2M328.9 984.1v17.2M331.8 985.5v17.2M335.7 995.4v17.2M340.2 999.46v17.2M342.2 1002.5v17.2M345.8 1002.5v17.2M350 1002.5v17.2M353.9 1002.5v17.2M356.4 1005.4v17.2M359.3 1012.23v17.2M363.8 1020.71v17.2M366.2 1023.8v17.2M370.9 1023.8v17.2M373.9 1023.8v17.2M377.2 1023.8v17.2M381.1 1027.87v17.2M385 1033.8v17.2M388.5 1033.8v17.2M392.9 1035.2v17.2M396.6 1039.5v17.2M401.2 1039.5v17.2M404.9 1039.5v17.2M408.5 1039.5v17.2M410.5 1040.3v17.2M415 1046.6v17.2M417.5 1050.55v17.2M420 1053.7v17.2M421.9 1053.7v17.2M425.6 1053.7v17.2M428.5 1059.35v17.2M432.3 1063.9v17.2M436.5 1063.9v17.2M441.1 1063.9v17.2M445.3 1063.9v17.2M449.6 1063.9v17.2M456 1064.2v17.2M465.1 1080.1v17.2M467.4 1080.1v17.2M486.4 1080.1v17.2" fill="none" stroke="#4b5cc4" stroke-width="1.8" stroke-linecap="round"/>
<path d="M158.4 872.8L166.9 872.8L172.64 872.8L172.64 875.03L175.4 875.03L175.4 877.7L180.51 877.7L180.51 880.53L183.99 880.53L183.99 883.63L186.8 883.63L186.8 887.6L188.09 887.6L188.09 889.52L191.37 889.52L191.37 892.38L193.93 892.38L193.93 896.54L195.3 896.54L195.3 899L199.03 899L199.03 904.71L201 904.71L201 916L205.27 916L205.27 918.3L208.85 918.3L208.85 924.9L210.67 924.9L210.67 926.89L212.4 926.89L212.4 928.8L214.2 928.8L214.2 932.18L216.53 932.18L216.53 937.79L219.5 937.79L219.5 944.4L222.93 944.4L222.93 949.55L225.1 949.55L225.1 954.3L226.95 954.3L226.95 959.12L230.8 959.12L230.8 967.1L233.72 967.1L233.72 969.07L235.89 969.07L235.89 971.27L237.9 971.27L237.9 975.6L252.1 975.6L252.1 978.5L254.54 978.5L254.54 981.34L258.1 981.34L258.1 984.95L263.5 984.95L263.5 987L265.37 987L265.37 989.16L266.99 989.16L266.99 991.18L269.96 991.18L269.96 992.98L272 992.98L272 998.4L278.27 998.4L278.27 1002.63L283.4 1002.63L283.4 1005.5L285.8 1005.5L285.8 1007.83L290.98 1007.83L290.98 1010.39L294.7 1010.39L294.7 1015.4L297.27 1015.4L297.27 1018.45L299.18 1018.45L299.18 1022.94L301.08 1022.94L301.08 1024.98L303.2 1024.98L303.2 1029.6L305.03 1029.6L305.03 1031.86L308.45 1031.86L308.45 1037.05L311.8 1037.05L311.8 1039.5L326 1039.5L326 1043.8L327.3 1043.8L327.3 1046.44L329.16 1046.44L329.16 1050.62L333.1 1050.62L333.1 1053.7L341.6 1053.7L341.6 1056.6L343.86 1056.6L343.86 1058.79L346.04 1058.79L346.04 1065.52L348.7 1065.52L348.7 1067.9L353.52 1067.9L353.52 1069.96L357.2 1069.96L357.2 1075L360.16 1075L360.16 1076.91L363.28 1076.91L363.28 1079.67L365.7 1079.67L365.7 1083.6L372.17 1083.6L372.17 1085.48L377.1 1085.48L377.1 1089.2L379.64 1089.2L379.64 1098.09L382.8 1098.09L382.8 1103.4L385.77 1103.4L385.77 1105.73L387.92 1105.73L387.92 1108.5L389.44 1108.5L389.44 1111.72L391.3 1111.72L391.3 1114.8L393.67 1114.8L393.67 1116.71L397 1116.71L397 1120.5L416.8 1120.5L416.8 1121.9L419.7 1121.9L419.7 1129L420.93 1129L420.93 1133.24L423.9 1133.24L423.9 1143.2L426.97 1143.2L426.97 1146.71L428.2 1146.71L428.2 1151.1L438.1 1151.1L438.1 1152.3L439.9 1152.3L439.9 1156.01L442.4 1156.01L442.4 1158.8L458 1158.8L458 1159.7L459.4 1159.7L459.4 1170.2L473.6 1171L475.1 1171L475.1 1192L642.6 1192" fill="none" stroke="#ee0456" stroke-width="6.1" stroke-linejoin="round"/>
<path d="M159 864.2v17.2M161.3 864.2v17.2M163.9 864.2v17.2M166.5 864.2v17.2M172.6 864.2v17.2M176.5 869.1v17.2M181 871.93v17.2M185.1 875.03v17.2M190.3 880.92v17.2M194.2 887.94v17.2M243.6 967v17.2M246.4 967v17.2M256.4 972.74v17.2M269.2 982.58v17.2M272.5 989.8v17.2M277.8 989.8v17.2M283.2 994.03v17.2M287.6 999.23v17.2M290.7 999.23v17.2M293.1 1001.79v17.2M298.7 1009.85v17.2M304.1 1021v17.2M308 1023.26v17.2M310.3 1028.45v17.2M315.1 1030.9v17.2M318.3 1030.9v17.2M322 1030.9v17.2M327.6 1037.84v17.2M333 1042.02v17.2M338.1 1045.1v17.2M340.5 1045.1v17.2M344.9 1050.19v17.2M349.2 1059.3v17.2M353.8 1061.36v17.2M356 1061.36v17.2M361.4 1068.31v17.2M364.1 1071.07v17.2M366.3 1075v17.2M370.7 1075v17.2M375.5 1076.88v17.2M380.1 1089.49v17.2M382.6 1089.49v17.2M385.5 1094.8v17.2M389.6 1103.12v17.2M393.9 1108.11v17.2M398.6 1111.9v17.2M400.8 1111.9v17.2M405.2 1111.9v17.2M408.1 1111.9v17.2M411.5 1111.9v17.2M428.2 1138.11v17.2M431 1142.5v17.2M442.4 1147.41v17.2M448.1 1150.2v17.2M455.2 1150.2v17.2M466.5 1162v17.2M473.6 1162.4v17.2M477.9 1183.4v17.2M485 1183.4v17.2M577.3 1183.4v17.2" fill="none" stroke="#ee0456" stroke-width="1.8" stroke-linecap="round"/>
<text x="158.5" y="1239.9" font-size="26.2" textLength="109.4" lengthAdjust="spacingAndGlyphs">HR = 1.61</text>
<text x="158.7" y="1275.9" font-size="26.2"><tspan font-style="italic" textLength="16" lengthAdjust="spacingAndGlyphs">P</tspan><tspan textLength="25.9" lengthAdjust="spacingAndGlyphs"> = </tspan><tspan x="208.7" textLength="113.7" lengthAdjust="spacingAndGlyphs">4.29 × 10</tspan><tspan x="323.5" font-size="18.3" dy="-13.2" textLength="20" lengthAdjust="spacingAndGlyphs">−4</tspan></text>
<text x="54" y="1429.1" font-size="27" textLength="52.3" lengthAdjust="spacingAndGlyphs" fill="#4b5cc4">Low</text>
<text x="53.8" y="1480.7" font-size="27" textLength="60.6" lengthAdjust="spacingAndGlyphs" fill="#ee0456">High</text>
<text x="158.1" y="1427.5" font-size="23.2" text-anchor="middle" textLength="36.58" lengthAdjust="spacingAndGlyphs">261</text>
<text x="158.1" y="1479.3" font-size="23.2" text-anchor="middle" textLength="42.84" lengthAdjust="spacingAndGlyphs">260</text>
<text x="231.79" y="1427.5" font-size="23.2" text-anchor="middle" textLength="42.84" lengthAdjust="spacingAndGlyphs">204</text>
<text x="231.79" y="1479.3" font-size="23.2" text-anchor="middle" textLength="36.92" lengthAdjust="spacingAndGlyphs">189</text>
<text x="305.49" y="1427.5" font-size="23.2" text-anchor="middle" textLength="39.13" lengthAdjust="spacingAndGlyphs">130</text>
<text x="305.49" y="1479.3" font-size="23.2" text-anchor="middle" textLength="36.69" lengthAdjust="spacingAndGlyphs">123</text>
<text x="379.18" y="1427.5" font-size="23.2" text-anchor="middle" textLength="27.06" lengthAdjust="spacingAndGlyphs">52</text>
<text x="379.18" y="1479.3" font-size="23.2" text-anchor="middle" textLength="27.76" lengthAdjust="spacingAndGlyphs">53</text>
<text x="452.87" y="1427.5" font-size="23.2" text-anchor="middle" textLength="22.89" lengthAdjust="spacingAndGlyphs">12</text>
<text x="452.87" y="1479.3" font-size="23.2" text-anchor="middle" textLength="19.06" lengthAdjust="spacingAndGlyphs">11</text>
<text x="526.57" y="1427.5" font-size="23.2" text-anchor="middle" textLength="16.04" lengthAdjust="spacingAndGlyphs">0</text>
<text x="526.57" y="1479.3" font-size="23.2" text-anchor="middle" textLength="13.61" lengthAdjust="spacingAndGlyphs">2</text>
<text x="600.26" y="1427.5" font-size="23.2" text-anchor="middle" textLength="16.04" lengthAdjust="spacingAndGlyphs">0</text>
<text x="600.26" y="1479.3" font-size="23.2" text-anchor="middle" textLength="9.78" lengthAdjust="spacingAndGlyphs">1</text>
<path d="M904.7 852.6V1294.1H1411.5" fill="none" stroke="#262626" stroke-width="1.45"/>
<text x="883.5" y="1282.4" font-size="23.2" text-anchor="end" textLength="16.04" lengthAdjust="spacingAndGlyphs">0</text>
<text x="883.5" y="1202.14" font-size="23.2" text-anchor="end" textLength="29.15" lengthAdjust="spacingAndGlyphs">20</text>
<text x="883.5" y="1121.88" font-size="23.2" text-anchor="end" textLength="29.73" lengthAdjust="spacingAndGlyphs">40</text>
<text x="883.5" y="1041.62" font-size="23.2" text-anchor="end" textLength="29.73" lengthAdjust="spacingAndGlyphs">60</text>
<text x="883.5" y="961.36" font-size="23.2" text-anchor="end" textLength="29.5" lengthAdjust="spacingAndGlyphs">80</text>
<text x="883.5" y="881.1" font-size="23.2" text-anchor="end" textLength="40.87" lengthAdjust="spacingAndGlyphs">100</text>
<text x="927.5" y="1333" font-size="23.2" text-anchor="middle" textLength="16.04" lengthAdjust="spacingAndGlyphs">0</text>
<text x="1001.19" y="1333" font-size="23.2" text-anchor="middle" textLength="27.64" lengthAdjust="spacingAndGlyphs">48</text>
<text x="1074.89" y="1333" font-size="23.2" text-anchor="middle" textLength="27.88" lengthAdjust="spacingAndGlyphs">96</text>
<text x="1148.58" y="1333" font-size="23.2" text-anchor="middle" textLength="37.16" lengthAdjust="spacingAndGlyphs">144</text>
<text x="1222.27" y="1333" font-size="23.2" text-anchor="middle" textLength="36.58" lengthAdjust="spacingAndGlyphs">192</text>
<text x="1295.97" y="1333" font-size="23.2" text-anchor="middle" textLength="42.84" lengthAdjust="spacingAndGlyphs">240</text>
<text x="1369.66" y="1333" font-size="23.2" text-anchor="middle" textLength="40.52" lengthAdjust="spacingAndGlyphs">288</text>
<path d="M895 1274H904.7M895 1193.74H904.7M895 1113.48H904.7M895 1033.22H904.7M895 952.96H904.7M895 872.7H904.7M927.5 1294.1v9.7M1001.19 1294.1v9.7M1074.89 1294.1v9.7M1148.58 1294.1v9.7M1222.27 1294.1v9.7M1295.97 1294.1v9.7M1369.66 1294.1v9.7" fill="none" stroke="#262626" stroke-width="1.45"/>
<text x="905" y="832.7" font-size="27" textLength="257.4" lengthAdjust="spacingAndGlyphs">Curtis et al. cohort 2</text>
<text font-size="27" transform="translate(819.1 1165.5) rotate(-90)"><tspan x="0" textLength="137.7" lengthAdjust="spacingAndGlyphs">Probability</tspan><tspan x="137.4" textLength="46.1" lengthAdjust="spacingAndGlyphs"> (%)</tspan></text>
<text font-size="27" transform="translate(1158.1 1375.3)"><tspan x="-79.9" textLength="39" lengthAdjust="spacingAndGlyphs">OS</tspan><tspan x="-41.7" textLength="122" lengthAdjust="spacingAndGlyphs"> (months)</tspan></text>
<path d="M927.5 873.4L942.6 873.4L946.65 873.4L946.65 876.4L948.3 876.4L948.3 879.1L965.3 879.1L965.3 881.9L972.4 881.9L972.4 886.2L975.18 886.2L975.18 890.54L978.1 890.54L978.1 894.7L988 894.7L988 897.5L991.54 897.5L991.54 901.6L993.7 901.6L993.7 903.2L998 903.2L998 906.1L1001.3 906.1L1001.3 908.79L1005.1 908.79L1005.1 913.2L1010.8 913.2L1010.8 914.6L1026.4 915.4L1029.2 915.4L1029.2 917.4L1040.6 917.4L1040.6 918.3L1042.46 918.3L1042.46 920.19L1044.8 920.19L1044.8 924.5L1051.9 924.5L1051.9 927.9L1057.6 927.9L1057.6 931.6L1061.61 931.6L1061.61 936.72L1064.7 936.72L1064.7 938.7L1084.6 938.7L1084.6 940.1L1088.9 940.1L1088.9 943L1094.5 943L1094.5 944.4L1096.08 944.4L1096.08 948.78L1098.8 948.78L1098.8 951.5L1107.3 951.5L1107.3 955.8L1111.6 955.8L1111.6 960L1131.5 960L1131.5 960.9L1133.57 960.9L1133.57 964.23L1137.1 964.23L1137.1 965.7L1154.2 965.7L1154.2 967.1L1157.2 967.1L1157.2 970.91L1159.9 970.91L1159.9 975.6L1169.8 975.6L1169.8 978.5L1171.04 978.5L1171.04 980.47L1174.1 980.47L1174.1 984.2L1186.8 984.7L1190.68 984.7L1190.68 986.53L1192.5 986.53L1192.5 989.8L1203.9 989.8L1203.9 992.1L1216.7 992.1L1216.7 994.1L1219.79 994.1L1219.79 997.1L1222.3 997.1L1222.3 999.8L1250.7 999.8L1250.7 1000.6L1253.6 1000.6L1253.6 1002.6L1262.1 1002.6L1262.1 1004L1264.14 1004L1264.14 1009.13L1266.4 1009.13L1266.4 1012.6L1276.3 1012.6L1276.3 1016.8L1279.1 1016.8L1279.1 1029.6L1280.8 1029.6L1280.8 1031.4L1283.85 1031.4L1283.85 1033.54L1286.2 1033.54L1286.2 1038.1L1288.69 1038.1L1288.69 1040.16L1290.5 1040.16L1290.5 1043.8L1316.1 1043.8L1316.1 1045.2L1318.9 1045.2L1318.9 1053.7L1330.3 1053.7L1330.3 1055.2L1333.1 1055.2L1333.1 1069.4L1340.2 1069.4L1340.2 1072.2L1343 1072.2L1343 1087.8L1368.6 1087.8" fill="none" stroke="#4b5cc4" stroke-width="6.1" stroke-linejoin="round"/>
<path d="M1038.6 908.8v17.2M1081.2 930.1v17.2M1086 931.5v17.2M1094.5 934.4v17.2M1099.4 942.9v17.2M1107.3 942.9v17.2M1118.1 951.4v17.2M1138 957.1v17.2M1157 958.5v17.2M1173.2 971.87v17.2M1178.3 975.85v17.2M1200.5 981.2v17.2M1202.7 981.2v17.2M1214.7 983.5v17.2M1216.9 985.5v17.2M1225.2 991.2v17.2M1235.1 991.2v17.2M1237.4 991.2v17.2M1272 1004v17.2M1275.4 1004v17.2M1279.1 1008.2v17.2M1280.6 1021v17.2M1282.9 1022.8v17.2M1285.5 1024.94v17.2M1286.8 1029.5v17.2M1289.5 1031.56v17.2M1291.9 1035.2v17.2M1293.2 1035.2v17.2M1295.6 1035.2v17.2M1296.9 1035.2v17.2M1299.3 1035.2v17.2M1301.9 1035.2v17.2M1303.9 1035.2v17.2M1305.9 1035.2v17.2M1308.8 1035.2v17.2M1310.5 1035.2v17.2M1312.7 1035.2v17.2M1315 1035.2v17.2M1316.4 1036.6v17.2M1319.5 1045.1v17.2M1321.1 1045.1v17.2M1324 1045.1v17.2M1326.3 1045.1v17.2M1327.6 1045.1v17.2M1329.5 1045.1v17.2M1338.8 1060.8v17.2M1341.6 1063.6v17.2M1344.5 1079.2v17.2M1348.7 1079.2v17.2M1357.2 1079.2v17.2M1359.5 1079.2v17.2M1365.8 1079.2v17.2M1368.6 1079.2v17.2" fill="none" stroke="#4b5cc4" stroke-width="1.8" stroke-linecap="round"/>
<path d="M927.5 873.4L939.8 873.4L939.8 874.8L948.3 874.8L948.3 879.1L949.54 879.1L949.54 883.69L952.5 883.69L952.5 887.6L954.15 887.6L954.15 890.27L957.64 890.27L957.64 894.45L961.1 894.45L961.1 896.1L964.1 896.1L964.1 901.71L965.3 901.71L965.3 906.1L969.13 906.1L969.13 909.7L971 909.7L971 918.8L978.1 918.8L978.1 923.1L981.05 923.1L981.05 927.62L983.05 927.62L983.05 931.27L985.2 931.27L985.2 935.9L988 935.9L988 945.8L992.05 945.8L992.05 950.85L993.27 950.85L993.27 952.54L994.57 952.54L994.57 954.42L996.8 954.42L996.8 957.25L998 957.25L998 960L1005.1 960L1005.1 962.9L1006.85 962.9L1006.85 965.05L1009.48 965.05L1009.48 968.26L1012.2 968.26L1012.2 971.4L1014.16 971.4L1014.16 975.79L1016.4 975.79L1016.4 978.5L1021.05 978.5L1021.05 981.62L1025 981.62L1025 985.6L1029.32 985.6L1029.32 988.25L1033.5 988.25L1033.5 992.7L1038.59 992.7L1038.59 997.39L1040.6 997.39L1040.6 999.8L1060.5 999.8L1060.5 1001.2L1062.4 1001.2L1062.4 1004.37L1064.7 1004.37L1064.7 1009.7L1068.74 1009.7L1068.74 1012.9L1073.2 1012.9L1073.2 1015.4L1077.29 1015.4L1077.29 1020.36L1081.8 1020.36L1081.8 1022.5L1101.6 1022.5L1101.6 1023.9L1103.71 1023.9L1103.71 1026.94L1108.7 1026.94L1108.7 1031L1124.4 1031L1124.4 1033.9L1127.24 1033.9L1127.24 1036L1130 1036L1130 1041L1133.44 1041L1133.44 1044.3L1137.1 1044.3L1137.1 1047.2L1142.37 1047.2L1142.37 1051.89L1149.9 1051.89L1149.9 1053.7L1156.04 1053.7L1156.04 1056.21L1164.1 1056.21L1164.1 1059.4L1175.5 1059.4L1175.5 1063.7L1178.59 1063.7L1178.59 1066.5L1181.2 1066.5L1181.2 1070.8L1195.4 1070.8L1195.4 1072.2L1199.54 1072.2L1199.54 1074.65L1203.9 1074.65L1203.9 1079.3L1226.6 1079.3L1226.6 1081.3L1235.1 1081.3L1235.1 1085L1243.6 1085L1243.6 1087.8L1260.7 1087.8L1260.7 1088.7L1262.41 1088.7L1262.41 1092.32L1266.4 1092.32L1266.4 1094.9L1276.3 1094.9L1276.3 1097.8L1278.02 1097.8L1278.02 1102.21L1280.6 1102.21L1280.6 1110.5L1282.33 1110.5L1282.33 1115.63L1283.92 1115.63L1283.92 1117.34L1285.7 1117.34L1285.7 1120.18L1289.1 1120.18L1289.1 1121.9L1290.34 1121.9L1290.34 1126.03L1293.3 1126.03L1293.3 1131.8L1295.78 1131.8L1295.78 1137.04L1297.6 1137.04L1297.6 1139.8L1340.2 1140.4L1341.6 1140.4L1341.6 1158.8L1354.4 1158.8" fill="none" stroke="#ee0456" stroke-width="6.1" stroke-linejoin="round"/>
<path d="M1080.3 1011.76v17.2M1083.2 1013.9v17.2M1095.4 1013.9v17.2M1098.2 1013.9v17.2M1102.2 1015.3v17.2M1124.9 1025.3v17.2M1133.4 1032.4v17.2M1137.1 1035.7v17.2M1140.8 1038.6v17.2M1152.2 1045.1v17.2M1179.7 1057.9v17.2M1184.6 1062.2v17.2M1215.8 1070.7v17.2M1221.5 1070.7v17.2M1257.8 1079.2v17.2M1269.2 1086.3v17.2M1274.9 1086.3v17.2M1297.6 1128.44v17.2M1299.9 1131.5v17.2M1302.7 1131.5v17.2M1310.4 1131.5v17.2M1316.1 1131.5v17.2M1317.9 1131.5v17.2M1320.9 1131.5v17.2M1322.3 1131.5v17.2M1324.7 1131.5v17.2M1326 1131.5v17.2M1327.6 1131.5v17.2M1330.3 1131.5v17.2M1332.5 1131.5v17.2M1343 1150.2v17.2M1350.1 1150.2v17.2M1354.4 1150.2v17.2" fill="none" stroke="#ee0456" stroke-width="1.8" stroke-linecap="round"/>
<text x="927.9" y="1239.9" font-size="26.2" textLength="108.2" lengthAdjust="spacingAndGlyphs">HR = 1.91</text>
<text x="928.1" y="1275.9" font-size="26.2"><tspan font-style="italic" textLength="16" lengthAdjust="spacingAndGlyphs">P</tspan><tspan textLength="25.9" lengthAdjust="spacingAndGlyphs"> = </tspan><tspan x="978.1" textLength="105.4" lengthAdjust="spacingAndGlyphs">7.81 × 10</tspan><tspan x="1084.6" font-size="18.3" dy="-13.2" textLength="20" lengthAdjust="spacingAndGlyphs">−5</tspan></text>
<text x="823.4" y="1429.1" font-size="27" textLength="52.3" lengthAdjust="spacingAndGlyphs" fill="#4b5cc4">Low</text>
<text x="823.2" y="1480.7" font-size="27" textLength="60.6" lengthAdjust="spacingAndGlyphs" fill="#ee0456">High</text>
<text x="927.5" y="1427.5" font-size="23.2" text-anchor="middle" textLength="37.16" lengthAdjust="spacingAndGlyphs">144</text>
<text x="927.5" y="1479.3" font-size="23.2" text-anchor="middle" textLength="37.16" lengthAdjust="spacingAndGlyphs">144</text>
<text x="1001.19" y="1427.5" font-size="23.2" text-anchor="middle" textLength="32.86" lengthAdjust="spacingAndGlyphs">131</text>
<text x="1001.19" y="1479.3" font-size="23.2" text-anchor="middle" textLength="32.17" lengthAdjust="spacingAndGlyphs">112</text>
<text x="1074.89" y="1427.5" font-size="23.2" text-anchor="middle" textLength="32.75" lengthAdjust="spacingAndGlyphs">119</text>
<text x="1074.89" y="1479.3" font-size="23.2" text-anchor="middle" textLength="27.99" lengthAdjust="spacingAndGlyphs">93</text>
<text x="1148.58" y="1427.5" font-size="23.2" text-anchor="middle" textLength="39.13" lengthAdjust="spacingAndGlyphs">103</text>
<text x="1148.58" y="1479.3" font-size="23.2" text-anchor="middle" textLength="27.88" lengthAdjust="spacingAndGlyphs">69</text>
<text x="1222.27" y="1427.5" font-size="23.2" text-anchor="middle" textLength="27.64" lengthAdjust="spacingAndGlyphs">84</text>
<text x="1222.27" y="1479.3" font-size="23.2" text-anchor="middle" textLength="27.64" lengthAdjust="spacingAndGlyphs">54</text>
<text x="1295.97" y="1427.5" font-size="23.2" text-anchor="middle" textLength="27.64" lengthAdjust="spacingAndGlyphs">54</text>
<text x="1295.97" y="1479.3" font-size="23.2" text-anchor="middle" textLength="27.3" lengthAdjust="spacingAndGlyphs">26</text>
<text x="1369.66" y="1427.5" font-size="23.2" text-anchor="middle" textLength="16.04" lengthAdjust="spacingAndGlyphs">0</text>
<text x="1369.66" y="1479.3" font-size="23.2" text-anchor="middle" textLength="16.04" lengthAdjust="spacingAndGlyphs">0</text>
<path d="M1640 852.6V1294.1H2146.9" fill="none" stroke="#262626" stroke-width="1.45"/>
<text x="1618.8" y="1282.4" font-size="23.2" text-anchor="end" textLength="16.04" lengthAdjust="spacingAndGlyphs">0</text>
<text x="1618.8" y="1202.14" font-size="23.2" text-anchor="end" textLength="29.15" lengthAdjust="spacingAndGlyphs">20</text>
<text x="1618.8" y="1121.88" font-size="23.2" text-anchor="end" textLength="29.73" lengthAdjust="spacingAndGlyphs">40</text>
<text x="1618.8" y="1041.62" font-size="23.2" text-anchor="end" textLength="29.73" lengthAdjust="spacingAndGlyphs">60</text>
<text x="1618.8" y="961.36" font-size="23.2" text-anchor="end" textLength="29.5" lengthAdjust="spacingAndGlyphs">80</text>
<text x="1618.8" y="881.1" font-size="23.2" text-anchor="end" textLength="40.87" lengthAdjust="spacingAndGlyphs">100</text>
<text x="1663.2" y="1333" font-size="23.2" text-anchor="middle" textLength="16.04" lengthAdjust="spacingAndGlyphs">0</text>
<text x="1751.74" y="1333" font-size="23.2" text-anchor="middle" textLength="27.64" lengthAdjust="spacingAndGlyphs">48</text>
<text x="1840.28" y="1333" font-size="23.2" text-anchor="middle" textLength="27.88" lengthAdjust="spacingAndGlyphs">96</text>
<text x="1928.82" y="1333" font-size="23.2" text-anchor="middle" textLength="37.16" lengthAdjust="spacingAndGlyphs">144</text>
<text x="2017.36" y="1333" font-size="23.2" text-anchor="middle" textLength="36.58" lengthAdjust="spacingAndGlyphs">192</text>
<text x="2105.9" y="1333" font-size="23.2" text-anchor="middle" textLength="42.84" lengthAdjust="spacingAndGlyphs">240</text>
<path d="M1630.3 1274H1640M1630.3 1193.74H1640M1630.3 1113.48H1640M1630.3 1033.22H1640M1630.3 952.96H1640M1630.3 872.7H1640M1663.2 1294.1v9.7M1751.74 1294.1v9.7M1840.28 1294.1v9.7M1928.82 1294.1v9.7M2017.36 1294.1v9.7M2105.9 1294.1v9.7" fill="none" stroke="#262626" stroke-width="1.45"/>
<text x="1640.3" y="832.7" font-size="27" textLength="258.9" lengthAdjust="spacingAndGlyphs">Curtis et al. cohort 3</text>
<text font-size="27" transform="translate(1554.4 1165.5) rotate(-90)"><tspan x="0" textLength="137.7" lengthAdjust="spacingAndGlyphs">Probability</tspan><tspan x="137.4" textLength="46.1" lengthAdjust="spacingAndGlyphs"> (%)</tspan></text>
<text font-size="27" transform="translate(1893.45 1375.3)"><tspan x="-79.9" textLength="39" lengthAdjust="spacingAndGlyphs">OS</tspan><tspan x="-41.7" textLength="122" lengthAdjust="spacingAndGlyphs"> (months)</tspan></text>
<path d="M1663.4 872.8L1671.9 872.8L1671.9 875.7L1700.3 875.7L1701.63 875.7L1701.63 879.54L1704.6 879.54L1704.6 881.9L1708.3 881.9L1708.3 889L1723 889L1723 889.9L1730.1 889.9L1730.1 893.3L1733 893.3L1733 901.8L1744.3 901.8L1744.3 903.2L1747.36 903.2L1747.36 907.82L1748.6 907.82L1748.6 913.2L1754.3 913.2L1754.3 917.4L1757.24 917.4L1757.24 921.38L1758.5 921.38L1758.5 925.9L1762.44 925.9L1762.44 930.79L1765.6 930.79L1765.6 933L1769.9 933L1769.9 936.4L1781.3 936.4L1781.3 937.3L1784.1 937.3L1784.1 944.4L1786.19 944.4L1786.19 946.22L1789.8 946.22L1789.8 950.6L1819.6 950.6L1819.6 952.4L1821.12 952.4L1821.12 955.02L1823.9 955.02L1823.9 961.4L1825.89 961.4L1825.89 963.75L1828.1 963.75L1828.1 968.5L1829.47 968.5L1829.47 972.06L1832.4 972.06L1832.4 977.1L1850.8 977.9L1852.76 977.9L1852.76 982.13L1855.1 982.13L1855.1 984.2L1867.9 984.2L1867.9 985.6L1869.08 985.6L1869.08 988.32L1872.1 988.32L1872.1 990.4L1892 990.4L1892 992.1L1896.3 992.1L1896.3 995.5L1921.8 995.5L1921.8 996.9L1924.74 996.9L1924.74 1003.8L1926.1 1003.8L1926.1 1008.3L1927.59 1008.3L1927.59 1011.7L1930.4 1011.7L1930.4 1018.2L1932.87 1018.2L1932.87 1020.59L1936 1020.59L1936 1026.8L1938.9 1026.8L1938.9 1033L1958.8 1033L1958.8 1033.9L1961.6 1033.9L1961.6 1042.4L1964.66 1042.4L1964.66 1048.53L1965.9 1048.53L1965.9 1052.3L1968.7 1052.3L1968.7 1061.4L1987.2 1061.4L1987.2 1062.3L1988.6 1062.3L1988.6 1084.1L2001.4 1084.1L2001.4 1085L2002.8 1085L2002.8 1095.5L2009.9 1096.3L2010.4 1110.5L2035.4 1110.5L2035.4 1111.4L2036.9 1111.4L2036.9 1131.8L2038.3 1131.8L2038.3 1151.1L2045.4 1151.7L2046.2 1172.2L2107.9 1172.2L2107.9 1273.8" fill="none" stroke="#4b5cc4" stroke-width="6.1" stroke-linejoin="round"/>
<path d="M1750.9 904.6v17.2M1754.8 908.8v17.2M1758.5 912.78v17.2M1762.2 917.3v17.2M1770.8 927.8v17.2M1795.5 942v17.2M1804.8 942v17.2M1806.8 942v17.2M1813.4 942v17.2M1821 943.8v17.2M1824.7 952.8v17.2M1828.1 955.15v17.2M1831.5 963.46v17.2M1840 968.9v17.2M1843.7 968.9v17.2M1845.7 968.9v17.2M1850.3 968.9v17.2M1857.9 975.6v17.2M1862.2 975.6v17.2M1866.5 975.6v17.2M1876.4 981.8v17.2M1879.5 981.8v17.2M1882.2 981.8v17.2M1885.6 981.8v17.2M1887.8 981.8v17.2M1889.2 981.8v17.2M1891.3 981.8v17.2M1900.5 986.9v17.2M1906.2 986.9v17.2M1913.3 986.9v17.2M1917.6 986.9v17.2M1920.4 986.9v17.2M1927.5 999.7v17.2M1930.4 1003.1v17.2M1934.6 1011.99v17.2M1940.3 1024.4v17.2M1949.7 1024.4v17.2M1969.5 1052.8v17.2M1979.2 1052.8v17.2M1985.7 1052.8v17.2M1995.1 1075.5v17.2M1999.1 1075.5v17.2M2003.6 1087.3v17.2M2007 1087.3v17.2M2024.1 1101.9v17.2M2026.9 1101.9v17.2M2031.2 1101.9v17.2M2035.4 1101.9v17.2M2047.4 1163.6v17.2M2068.1 1163.6v17.2M2082.9 1163.6v17.2M2104.2 1163.6v17.2" fill="none" stroke="#4b5cc4" stroke-width="1.8" stroke-linecap="round"/>
<path d="M1663.4 872.8L1670.5 872.8L1673.97 872.8L1673.97 878.18L1676.2 878.18L1676.2 880.5L1689 880.5L1689 882.5L1693.34 882.5L1693.34 886.94L1696.1 886.94L1696.1 889L1698.21 889L1698.21 892.05L1702.6 892.05L1702.6 894.7L1704.6 894.7L1704.6 904.1L1711.7 904.1L1711.7 906.1L1713.67 906.1L1713.67 910.56L1715.9 910.56L1715.9 917.4L1718.75 917.4L1718.75 922.22L1720.2 922.22L1720.2 928.8L1722.66 928.8L1722.66 933.69L1725.91 933.69L1725.91 936.88L1727.3 936.88L1727.3 940.1L1742.9 940.1L1742.9 941L1745.6 941L1745.6 943.26L1747.2 943.26L1747.2 948.7L1750.65 948.7L1750.65 950.99L1752.9 950.99L1752.9 955.8L1754.7 955.8L1754.7 958.49L1757.1 958.49L1757.1 964.3L1759.03 964.3L1759.03 966.59L1761.64 966.59L1761.64 969.44L1764.2 969.44L1764.2 972.8L1767.51 972.8L1767.51 976.46L1771.3 976.46L1771.3 979.9L1773.5 979.9L1773.5 984.92L1775.6 984.92L1775.6 988.4L1782.7 988.4L1782.7 990.4L1785.55 990.4L1785.55 995.02L1786.9 995.02L1786.9 996.9L1795.5 996.9L1795.5 999.8L1799.34 999.8L1799.34 1003.75L1802.6 1003.75L1802.6 1006.9L1807.2 1006.9L1807.2 1009.35L1811.1 1009.35L1811.1 1012.6L1816.43 1012.6L1816.43 1014.95L1819.6 1014.95L1819.6 1019.7L1828.1 1019.7L1828.1 1023.9L1838.1 1023.9L1838.1 1026.2L1841.03 1026.2L1841.03 1032.03L1842.3 1032.03L1842.3 1038.1L1850.8 1038.1L1850.8 1042.4L1854.29 1042.4L1854.29 1048.21L1856.5 1048.21L1856.5 1052.3L1858.06 1052.3L1858.06 1054.68L1860.46 1054.68L1860.46 1057.69L1863.6 1057.69L1863.6 1062.3L1866.22 1062.3L1866.22 1066.88L1867.9 1066.88L1867.9 1072.2L1870.3 1072.2L1870.3 1074.02L1872.1 1074.02L1872.1 1078.4L1889.2 1078.4L1889.2 1079.3L1892 1079.3L1892 1089.2L1895 1089.2L1895 1093.38L1896.3 1093.38L1896.3 1098.3L1917.6 1098.3L1917.6 1099.2L1920.33 1099.2L1920.33 1102.73L1921.8 1102.73L1921.8 1104.9L1927.5 1104.9L1927.5 1106.3L1928.86 1106.3L1928.86 1110.65L1931.8 1110.65L1931.8 1113.4L1934.6 1113.4L1934.6 1119.9L1951.7 1120.5L1954.5 1120.5L1954.5 1129L1957.3 1129L1957.3 1134.7L1973 1135.2L1975.8 1135.2L1975.8 1143.2L2008.5 1143.8L2011.3 1143.8L2011.3 1154.6L2019.8 1154.6L2019.8 1156L2022.7 1156L2022.7 1174.4L2024.6 1174.4L2024.6 1192.9L2029.8 1192.9L2029.8 1194.3L2031.2 1194.3L2031.2 1208.5L2034.9 1208.5L2034.9 1209.9L2036 1209.9L2036 1221.3L2048.2 1222.1L2049.6 1222.1L2049.6 1234.1L2072.9 1234.6L2072.9 1258.2" fill="none" stroke="#ee0456" stroke-width="6.1" stroke-linejoin="round"/>
<path d="M1671.9 864.2v17.2M1750 940.1v17.2M1789.8 988.3v17.2M1792.6 988.3v17.2M1795.5 988.3v17.2M1799.7 995.15v17.2M1802.6 995.15v17.2M1811.1 1000.75v17.2M1821.9 1011.1v17.2M1824.7 1011.1v17.2M1828.7 1015.3v17.2M1844.6 1029.5v17.2M1852.3 1033.8v17.2M1856.5 1039.61v17.2M1860.8 1049.09v17.2M1872.1 1065.42v17.2M1875 1069.8v17.2M1883.5 1069.8v17.2M1887.2 1069.8v17.2M1900.5 1089.7v17.2M1911.9 1089.7v17.2M1919 1090.6v17.2M1923.3 1096.3v17.2M1928.9 1102.05v17.2M1935.5 1111.6v17.2M1967.8 1126.35v17.2M1978.6 1134.9v17.2M1991.4 1134.9v17.2M1999.9 1134.9v17.2M2007 1134.9v17.2M2017.8 1146v17.2M2053 1225.75v17.2" fill="none" stroke="#ee0456" stroke-width="1.8" stroke-linecap="round"/>
<text x="1663.6" y="1239.9" font-size="26.2" textLength="113" lengthAdjust="spacingAndGlyphs">HR = 1.85</text>
<text x="1663.8" y="1275.9" font-size="26.2"><tspan font-style="italic" textLength="16" lengthAdjust="spacingAndGlyphs">P</tspan><tspan textLength="25.9" lengthAdjust="spacingAndGlyphs"> = </tspan><tspan x="1713.8" textLength="114" lengthAdjust="spacingAndGlyphs">6.95 × 10</tspan><tspan x="1828.9" font-size="18.3" dy="-13.2" textLength="20" lengthAdjust="spacingAndGlyphs">−4</tspan></text>
<text x="1558.7" y="1429.1" font-size="27" textLength="52.3" lengthAdjust="spacingAndGlyphs" fill="#4b5cc4">Low</text>
<text x="1558.5" y="1480.7" font-size="27" textLength="60.6" lengthAdjust="spacingAndGlyphs" fill="#ee0456">High</text>
<text x="1663.2" y="1427.5" font-size="23.2" text-anchor="middle" textLength="32.75" lengthAdjust="spacingAndGlyphs">119</text>
<text x="1663.2" y="1479.3" font-size="23.2" text-anchor="middle" textLength="32.75" lengthAdjust="spacingAndGlyphs">119</text>
<text x="1751.74" y="1427.5" font-size="23.2" text-anchor="middle" textLength="38.78" lengthAdjust="spacingAndGlyphs">105</text>
<text x="1751.74" y="1479.3" font-size="23.2" text-anchor="middle" textLength="27.3" lengthAdjust="spacingAndGlyphs">92</text>
<text x="1840.28" y="1427.5" font-size="23.2" text-anchor="middle" textLength="24.98" lengthAdjust="spacingAndGlyphs">72</text>
<text x="1840.28" y="1479.3" font-size="23.2" text-anchor="middle" textLength="23.47" lengthAdjust="spacingAndGlyphs">61</text>
<text x="1928.82" y="1427.5" font-size="23.2" text-anchor="middle" textLength="28.11" lengthAdjust="spacingAndGlyphs">33</text>
<text x="1928.82" y="1479.3" font-size="23.2" text-anchor="middle" textLength="27.3" lengthAdjust="spacingAndGlyphs">24</text>
<text x="2017.36" y="1427.5" font-size="23.2" text-anchor="middle" textLength="19.06" lengthAdjust="spacingAndGlyphs">11</text>
<text x="2017.36" y="1479.3" font-size="23.2" text-anchor="middle" textLength="25.32" lengthAdjust="spacingAndGlyphs">10</text>
<text x="2105.9" y="1427.5" font-size="23.2" text-anchor="middle" textLength="9.78" lengthAdjust="spacingAndGlyphs">1</text>
<text x="2105.9" y="1479.3" font-size="23.2" text-anchor="middle" textLength="16.04" lengthAdjust="spacingAndGlyphs">0</text>
<line x1="2072.9" y1="1252.5" x2="2072.9" y2="1266.5" stroke="#ee0456" stroke-width="1.7"/>
<text x="907.5" y="1544" font-size="27" textLength="125.5" lengthAdjust="spacingAndGlyphs">Subgroup</text>
<line x1="1051.4" y1="1535.7" x2="1124.4" y2="1535.7" stroke="#4b5cc4" stroke-width="6.2"/>
<line x1="1088" y1="1527.5" x2="1088" y2="1548.5" stroke="#4b5cc4" stroke-width="1.8"/>
<text x="1140.2" y="1544.2" font-size="27" textLength="50.8" lengthAdjust="spacingAndGlyphs">Low</text>
<line x1="1235.2" y1="1535.7" x2="1308.3" y2="1535.7" stroke="#ee0456" stroke-width="6.2"/>
<line x1="1271.9" y1="1527.5" x2="1271.9" y2="1548.5" stroke="#ee0456" stroke-width="1.8"/>
<text x="1324.3" y="1544.2" font-size="27" textLength="57.7" lengthAdjust="spacingAndGlyphs">High</text>
<rect x="0" y="1740.1" width="1079.7" height="43.87" fill="#eef2f1"/>
<rect x="0" y="1827.84" width="1079.7" height="43.87" fill="#eef2f1"/>
<rect x="0" y="1915.58" width="1079.7" height="43.87" fill="#eef2f1"/>
<rect x="0" y="2003.32" width="1079.7" height="43.87" fill="#eef2f1"/>
<rect x="0" y="2091.06" width="1079.7" height="43.87" fill="#eef2f1"/>
<rect x="0" y="2178.8" width="1079.7" height="43.87" fill="#eef2f1"/>
<text x="10.4" y="1772.6" font-size="27" textLength="50.2" lengthAdjust="spacingAndGlyphs">Age</text>
<text x="56.5" y="1816.47" font-size="27" textLength="48.4" lengthAdjust="spacingAndGlyphs">≤60</text>
<text x="56.5" y="1860.34" font-size="27" textLength="48.4" lengthAdjust="spacingAndGlyphs">&gt;60</text>
<text x="10.4" y="1904.21" font-size="27" textLength="114.8" lengthAdjust="spacingAndGlyphs">ER status</text>
<text x="56.3" y="1948.08" font-size="27" textLength="113" lengthAdjust="spacingAndGlyphs">Negative</text>
<text x="56.3" y="1991.95" font-size="27" textLength="98.2" lengthAdjust="spacingAndGlyphs">Positive</text>
<text x="10.4" y="2035.82" font-size="27" textLength="149.5" lengthAdjust="spacingAndGlyphs">HER2 status</text>
<text x="56.3" y="2079.69" font-size="27" textLength="113" lengthAdjust="spacingAndGlyphs">Negative</text>
<text x="56.3" y="2123.56" font-size="27" textLength="98.2" lengthAdjust="spacingAndGlyphs">Positive</text>
<text x="10.4" y="2167.43" font-size="27" textLength="115.8" lengthAdjust="spacingAndGlyphs">PR status</text>
<text x="56.3" y="2211.3" font-size="27" textLength="113" lengthAdjust="spacingAndGlyphs">Negative</text>
<text x="56.3" y="2255.17" font-size="27" textLength="98.2" lengthAdjust="spacingAndGlyphs">Positive</text>
<text x="9.5" y="1724.5" font-size="27" textLength="126.6" lengthAdjust="spacingAndGlyphs">Subgroup</text>
<text x="207.3" y="1725" font-size="27" textLength="106.5" lengthAdjust="spacingAndGlyphs">Cohort 1</text>
<text x="516" y="1725" font-size="27" textLength="111" lengthAdjust="spacingAndGlyphs">Cohort 2</text>
<text x="834.5" y="1725" font-size="27" textLength="111" lengthAdjust="spacingAndGlyphs">Cohort 3</text>
<text x="554.5" y="1625.5" font-size="27" text-anchor="middle" textLength="96" lengthAdjust="spacingAndGlyphs">Method</text>
<line x1="370.5" y1="1655.8" x2="406.5" y2="1655.8" stroke="#fc8d62" stroke-width="2.2"/>
<rect x="378" y="1645" width="21" height="21" fill="#fc8d62"/>
<text x="420.3" y="1664.6" font-size="27" textLength="92" lengthAdjust="spacingAndGlyphs">Cox PH</text>
<line x1="551.5" y1="1655.8" x2="587.5" y2="1655.8" stroke="#66c2a5" stroke-width="2.2"/>
<rect x="559" y="1645" width="21" height="21" fill="#66c2a5"/>
<text x="601.3" y="1664.6" font-size="27" textLength="137.5" lengthAdjust="spacingAndGlyphs">Stable Cox</text>
<line x1="244.56" y1="1744.1" x2="244.56" y2="2263.6" stroke="#333" stroke-width="2.1" stroke-dasharray="12.6 4.6"/>
<line x1="555.66" y1="1744.1" x2="555.66" y2="2263.6" stroke="#333" stroke-width="2.1" stroke-dasharray="12.6 4.6"/>
<line x1="874.9" y1="1744.1" x2="874.9" y2="2263.6" stroke="#333" stroke-width="2.1" stroke-dasharray="12.6 4.6"/>
<line x1="240.09" y1="1797.37" x2="323.59" y2="1797.37" stroke="#fc8d62" stroke-width="2.1"/>
<rect x="266.6" y="1792.07" width="10.6" height="10.6" fill="#fc8d62"/>
<line x1="280.77" y1="1814.97" x2="451.13" y2="1814.97" stroke="#66c2a5" stroke-width="2.1"/>
<rect x="353.46" y="1809.67" width="10.6" height="10.6" fill="#66c2a5"/>
<path d="M440.93 1809.37L450.33 1814.97L440.93 1820.57" fill="none" stroke="#66c2a5" stroke-width="2" stroke-linecap="round" stroke-linejoin="round"/>
<line x1="247.13" y1="1841.24" x2="303.1" y2="1841.24" stroke="#fc8d62" stroke-width="2.1"/>
<rect x="264.76" y="1835.94" width="10.6" height="10.6" fill="#fc8d62"/>
<line x1="247.13" y1="1858.84" x2="295.75" y2="1858.84" stroke="#66c2a5" stroke-width="2.1"/>
<rect x="262.62" y="1853.54" width="10.6" height="10.6" fill="#66c2a5"/>
<line x1="208.28" y1="1928.98" x2="238.56" y2="1928.98" stroke="#fc8d62" stroke-width="2.1"/>
<rect x="214.6" y="1923.68" width="10.6" height="10.6" fill="#fc8d62"/>
<line x1="214.09" y1="1946.58" x2="258.44" y2="1946.58" stroke="#66c2a5" stroke-width="2.1"/>
<rect x="225.31" y="1941.28" width="10.6" height="10.6" fill="#66c2a5"/>
<line x1="277.4" y1="1972.85" x2="375.28" y2="1972.85" stroke="#fc8d62" stroke-width="2.1"/>
<rect x="311.86" y="1967.55" width="10.6" height="10.6" fill="#fc8d62"/>
<line x1="257.52" y1="1990.45" x2="314.11" y2="1990.45" stroke="#66c2a5" stroke-width="2.1"/>
<rect x="276.08" y="1985.15" width="10.6" height="10.6" fill="#66c2a5"/>
<line x1="257.52" y1="2060.59" x2="309.52" y2="2060.59" stroke="#fc8d62" stroke-width="2.1"/>
<rect x="274.55" y="2055.29" width="10.6" height="10.6" fill="#fc8d62"/>
<line x1="249.88" y1="2078.19" x2="296.06" y2="2078.19" stroke="#66c2a5" stroke-width="2.1"/>
<rect x="264.15" y="2072.89" width="10.6" height="10.6" fill="#66c2a5"/>
<line x1="225.1" y1="2104.46" x2="337.35" y2="2104.46" stroke="#fc8d62" stroke-width="2.1"/>
<rect x="256.2" y="2099.16" width="10.6" height="10.6" fill="#fc8d62"/>
<line x1="230.61" y1="2122.06" x2="375.58" y2="2122.06" stroke="#66c2a5" stroke-width="2.1"/>
<rect x="270.88" y="2116.76" width="10.6" height="10.6" fill="#66c2a5"/>
<line x1="247.74" y1="2192.2" x2="308.91" y2="2192.2" stroke="#fc8d62" stroke-width="2.1"/>
<rect x="267.82" y="2186.9" width="10.6" height="10.6" fill="#fc8d62"/>
<line x1="255.99" y1="2209.8" x2="349.58" y2="2209.8" stroke="#66c2a5" stroke-width="2.1"/>
<rect x="287.4" y="2204.5" width="10.6" height="10.6" fill="#66c2a5"/>
<line x1="259.05" y1="2236.07" x2="362.43" y2="2236.07" stroke="#fc8d62" stroke-width="2.1"/>
<rect x="293.51" y="2230.77" width="10.6" height="10.6" fill="#fc8d62"/>
<line x1="244.68" y1="2253.67" x2="309.52" y2="2253.67" stroke="#66c2a5" stroke-width="2.1"/>
<rect x="265.99" y="2248.37" width="10.6" height="10.6" fill="#66c2a5"/>
<line x1="569.06" y1="1797.37" x2="659.8" y2="1797.37" stroke="#fc8d62" stroke-width="2.1"/>
<rect x="599.65" y="1792.07" width="10.6" height="10.6" fill="#fc8d62"/>
<line x1="602.58" y1="1814.97" x2="741.75" y2="1814.97" stroke="#66c2a5" stroke-width="2.1"/>
<rect x="651.8" y="1809.67" width="10.6" height="10.6" fill="#66c2a5"/>
<line x1="518.26" y1="1841.24" x2="555.17" y2="1841.24" stroke="#fc8d62" stroke-width="2.1"/>
<rect x="526.17" y="1835.94" width="10.6" height="10.6" fill="#fc8d62"/>
<line x1="566.69" y1="1858.84" x2="680.46" y2="1858.84" stroke="#66c2a5" stroke-width="2.1"/>
<rect x="604.39" y="1853.54" width="10.6" height="10.6" fill="#66c2a5"/>
<line x1="562.28" y1="1928.98" x2="713.64" y2="1928.98" stroke="#fc8d62" stroke-width="2.1"/>
<rect x="609.81" y="1923.68" width="10.6" height="10.6" fill="#fc8d62"/>
<line x1="557.88" y1="1946.58" x2="697.73" y2="1946.58" stroke="#66c2a5" stroke-width="2.1"/>
<rect x="601.68" y="1941.28" width="10.6" height="10.6" fill="#66c2a5"/>
<line x1="550.09" y1="1972.85" x2="614.09" y2="1972.85" stroke="#fc8d62" stroke-width="2.1"/>
<rect x="570.53" y="1967.55" width="10.6" height="10.6" fill="#fc8d62"/>
<line x1="592.08" y1="1990.45" x2="695.02" y2="1990.45" stroke="#66c2a5" stroke-width="2.1"/>
<rect x="628.77" y="1985.15" width="10.6" height="10.6" fill="#66c2a5"/>
<line x1="547.38" y1="2060.59" x2="599.87" y2="2060.59" stroke="#fc8d62" stroke-width="2.1"/>
<rect x="563.42" y="2055.29" width="10.6" height="10.6" fill="#fc8d62"/>
<line x1="577.52" y1="2078.19" x2="658.11" y2="2078.19" stroke="#66c2a5" stroke-width="2.1"/>
<rect x="605.41" y="2072.89" width="10.6" height="10.6" fill="#66c2a5"/>
<line x1="542.64" y1="2104.46" x2="686.89" y2="2104.46" stroke="#fc8d62" stroke-width="2.1"/>
<rect x="583.06" y="2099.16" width="10.6" height="10.6" fill="#fc8d62"/>
<line x1="580.23" y1="2122.06" x2="761.73" y2="2122.06" stroke="#66c2a5" stroke-width="2.1"/>
<rect x="722.57" y="2116.76" width="10.6" height="10.6" fill="#66c2a5"/>
<path d="M751.53 2116.46L760.93 2122.06L751.53 2127.66" fill="none" stroke="#66c2a5" stroke-width="2" stroke-linecap="round" stroke-linejoin="round"/>
<line x1="527.74" y1="2192.2" x2="575.83" y2="2192.2" stroke="#fc8d62" stroke-width="2.1"/>
<rect x="540.39" y="2186.9" width="10.6" height="10.6" fill="#fc8d62"/>
<line x1="567.02" y1="2209.8" x2="674.37" y2="2209.8" stroke="#66c2a5" stroke-width="2.1"/>
<rect x="602.7" y="2204.5" width="10.6" height="10.6" fill="#66c2a5"/>
<line x1="555.85" y1="2236.07" x2="629.33" y2="2236.07" stroke="#fc8d62" stroke-width="2.1"/>
<rect x="578.66" y="2230.77" width="10.6" height="10.6" fill="#fc8d62"/>
<line x1="602.24" y1="2253.67" x2="746.83" y2="2253.67" stroke="#66c2a5" stroke-width="2.1"/>
<rect x="653.49" y="2248.37" width="10.6" height="10.6" fill="#66c2a5"/>
<line x1="875.5" y1="1797.37" x2="1003.84" y2="1797.37" stroke="#fc8d62" stroke-width="2.1"/>
<rect x="914.9" y="1792.07" width="10.6" height="10.6" fill="#fc8d62"/>
<line x1="940.52" y1="1814.97" x2="1081.04" y2="1814.97" stroke="#66c2a5" stroke-width="2.1"/>
<rect x="1045.61" y="1809.67" width="10.6" height="10.6" fill="#66c2a5"/>
<path d="M1070.84 1809.37L1080.24 1814.97L1070.84 1820.57" fill="none" stroke="#66c2a5" stroke-width="2" stroke-linecap="round" stroke-linejoin="round"/>
<line x1="866.02" y1="1841.24" x2="931.71" y2="1841.24" stroke="#fc8d62" stroke-width="2.1"/>
<rect x="886.12" y="1835.94" width="10.6" height="10.6" fill="#fc8d62"/>
<line x1="876.18" y1="1858.84" x2="955.76" y2="1858.84" stroke="#66c2a5" stroke-width="2.1"/>
<rect x="902.37" y="1853.54" width="10.6" height="10.6" fill="#66c2a5"/>
<line x1="838.26" y1="1928.98" x2="888.03" y2="1928.98" stroke="#fc8d62" stroke-width="2.1"/>
<rect x="849.89" y="1923.68" width="10.6" height="10.6" fill="#fc8d62"/>
<line x1="891.08" y1="1946.58" x2="1081.04" y2="1946.58" stroke="#66c2a5" stroke-width="2.1"/>
<rect x="953.5" y="1941.28" width="10.6" height="10.6" fill="#66c2a5"/>
<path d="M1070.84 1940.98L1080.24 1946.58L1070.84 1952.18" fill="none" stroke="#66c2a5" stroke-width="2" stroke-linecap="round" stroke-linejoin="round"/>
<line x1="897.85" y1="1972.85" x2="1009.93" y2="1972.85" stroke="#fc8d62" stroke-width="2.1"/>
<rect x="935.89" y="1967.55" width="10.6" height="10.6" fill="#fc8d62"/>
<line x1="906.99" y1="1990.45" x2="1025.51" y2="1990.45" stroke="#66c2a5" stroke-width="2.1"/>
<rect x="948.08" y="1985.15" width="10.6" height="10.6" fill="#66c2a5"/>
<line x1="878.55" y1="2060.59" x2="945.94" y2="2060.59" stroke="#fc8d62" stroke-width="2.1"/>
<rect x="900.34" y="2055.29" width="10.6" height="10.6" fill="#fc8d62"/>
<line x1="903.61" y1="2078.19" x2="1000.79" y2="2078.19" stroke="#66c2a5" stroke-width="2.1"/>
<rect x="937.59" y="2072.89" width="10.6" height="10.6" fill="#66c2a5"/>
<line x1="856.54" y1="2104.46" x2="1054.63" y2="2104.46" stroke="#fc8d62" stroke-width="2.1"/>
<rect x="906.44" y="2099.16" width="10.6" height="10.6" fill="#fc8d62"/>
<line x1="861.28" y1="2122.06" x2="1081.04" y2="2122.06" stroke="#66c2a5" stroke-width="2.1"/>
<rect x="918.29" y="2116.76" width="10.6" height="10.6" fill="#66c2a5"/>
<path d="M1070.84 2116.46L1080.24 2122.06L1070.84 2127.66" fill="none" stroke="#66c2a5" stroke-width="2" stroke-linecap="round" stroke-linejoin="round"/>
<line x1="867.72" y1="2192.2" x2="953.05" y2="2192.2" stroke="#fc8d62" stroke-width="2.1"/>
<rect x="894.58" y="2186.9" width="10.6" height="10.6" fill="#fc8d62"/>
<line x1="897.85" y1="2209.8" x2="1021.11" y2="2209.8" stroke="#66c2a5" stroke-width="2.1"/>
<rect x="940.3" y="2204.5" width="10.6" height="10.6" fill="#66c2a5"/>
<line x1="889.05" y1="2236.07" x2="1026.86" y2="2236.07" stroke="#fc8d62" stroke-width="2.1"/>
<rect x="934.54" y="2230.77" width="10.6" height="10.6" fill="#fc8d62"/>
<line x1="897.85" y1="2253.67" x2="1063.1" y2="2253.67" stroke="#66c2a5" stroke-width="2.1"/>
<rect x="952.49" y="2248.37" width="10.6" height="10.6" fill="#66c2a5"/>
<path d="M193.3 2281.2V2267.6H449.6V2281.2M244.56 2267.6v13.6M347.08 2267.6v13.6" fill="none" stroke="#262626" stroke-width="1.45"/>
<text x="193.3" y="2311.6" font-size="23.2" text-anchor="middle" textLength="16.04" lengthAdjust="spacingAndGlyphs">0</text>
<text x="244.56" y="2311.6" font-size="23.2" text-anchor="middle" textLength="9.78" lengthAdjust="spacingAndGlyphs">1</text>
<text x="347.08" y="2311.6" font-size="23.2" text-anchor="middle" textLength="14.3" lengthAdjust="spacingAndGlyphs">3</text>
<text x="449.6" y="2311.6" font-size="23.2" text-anchor="middle" textLength="13.96" lengthAdjust="spacingAndGlyphs">5</text>
<text x="321.45" y="2351.5" font-size="27" text-anchor="middle" textLength="36.2" lengthAdjust="spacingAndGlyphs">HR</text>
<path d="M504.4 2281.2V2267.6H760.7V2281.2M555.66 2267.6v13.6M658.18 2267.6v13.6" fill="none" stroke="#262626" stroke-width="1.45"/>
<text x="504.4" y="2311.6" font-size="23.2" text-anchor="middle" textLength="16.04" lengthAdjust="spacingAndGlyphs">0</text>
<text x="555.66" y="2311.6" font-size="23.2" text-anchor="middle" textLength="9.78" lengthAdjust="spacingAndGlyphs">1</text>
<text x="658.18" y="2311.6" font-size="23.2" text-anchor="middle" textLength="14.3" lengthAdjust="spacingAndGlyphs">3</text>
<text x="760.7" y="2311.6" font-size="23.2" text-anchor="middle" textLength="13.96" lengthAdjust="spacingAndGlyphs">5</text>
<text x="632.55" y="2351.5" font-size="27" text-anchor="middle" textLength="36.2" lengthAdjust="spacingAndGlyphs">HR</text>
<path d="M823.7 2281.2V2267.6H1079.7V2281.2M874.9 2267.6v13.6M977.3 2267.6v13.6" fill="none" stroke="#262626" stroke-width="1.45"/>
<text x="823.7" y="2311.6" font-size="23.2" text-anchor="middle" textLength="16.04" lengthAdjust="spacingAndGlyphs">0</text>
<text x="874.9" y="2311.6" font-size="23.2" text-anchor="middle" textLength="9.78" lengthAdjust="spacingAndGlyphs">1</text>
<text x="977.3" y="2311.6" font-size="23.2" text-anchor="middle" textLength="14.3" lengthAdjust="spacingAndGlyphs">3</text>
<text x="1079.7" y="2311.6" font-size="23.2" text-anchor="middle" textLength="13.96" lengthAdjust="spacingAndGlyphs">5</text>
<text x="951.7" y="2351.5" font-size="27" text-anchor="middle" textLength="36.2" lengthAdjust="spacingAndGlyphs">HR</text>
<rect x="1271.25" y="1941.1" width="29.1" height="285.3" fill="#eb6f5d"/>
<rect x="1271.25" y="1750.9" width="29.1" height="190.2" fill="#999999"/>
<rect x="1307.35" y="2036.2" width="29.1" height="190.2" fill="#eb6f5d"/>
<rect x="1307.35" y="1750.9" width="29.1" height="285.3" fill="#999999"/>
<rect x="1343.45" y="1846" width="29.1" height="380.4" fill="#6376a0"/>
<rect x="1343.45" y="1750.9" width="29.1" height="95.1" fill="#999999"/>
<rect x="1379.55" y="1941.1" width="29.1" height="285.3" fill="#eb6f5d"/>
<rect x="1379.55" y="1750.9" width="29.1" height="190.2" fill="#999999"/>
<rect x="1415.65" y="2131.3" width="29.1" height="95.1" fill="#6376a0"/>
<rect x="1415.65" y="1941.1" width="29.1" height="190.2" fill="#eb6f5d"/>
<rect x="1415.65" y="1750.9" width="29.1" height="190.2" fill="#999999"/>
<rect x="1451.75" y="2036.2" width="29.1" height="190.2" fill="#6376a0"/>
<rect x="1451.75" y="1846" width="29.1" height="190.2" fill="#eb6f5d"/>
<rect x="1451.75" y="1750.9" width="29.1" height="95.1" fill="#999999"/>
<rect x="1487.85" y="2036.2" width="29.1" height="190.2" fill="#6376a0"/>
<rect x="1487.85" y="1750.9" width="29.1" height="285.3" fill="#999999"/>
<rect x="1523.95" y="2131.3" width="29.1" height="95.1" fill="#6376a0"/>
<rect x="1523.95" y="1846" width="29.1" height="285.3" fill="#eb6f5d"/>
<rect x="1523.95" y="1750.9" width="29.1" height="95.1" fill="#999999"/>
<rect x="1560.05" y="1941.1" width="29.1" height="285.3" fill="#6376a0"/>
<rect x="1560.05" y="1750.9" width="29.1" height="190.2" fill="#999999"/>
<rect x="1596.15" y="2036.2" width="29.1" height="190.2" fill="#6376a0"/>
<rect x="1596.15" y="1941.1" width="29.1" height="95.1" fill="#eb6f5d"/>
<rect x="1596.15" y="1750.9" width="29.1" height="190.2" fill="#999999"/>
<rect x="1264" y="1726.9" width="368.4" height="523.4" fill="none" stroke="#1c1c1c" stroke-width="1.5"/>
<text x="1242.8" y="2234.8" font-size="23.2" text-anchor="end" textLength="16.04" lengthAdjust="spacingAndGlyphs">0</text>
<text x="1242.8" y="2139.7" font-size="23.2" text-anchor="end" textLength="29.15" lengthAdjust="spacingAndGlyphs">20</text>
<text x="1242.8" y="2044.6" font-size="23.2" text-anchor="end" textLength="29.73" lengthAdjust="spacingAndGlyphs">40</text>
<text x="1242.8" y="1949.5" font-size="23.2" text-anchor="end" textLength="29.73" lengthAdjust="spacingAndGlyphs">60</text>
<text x="1242.8" y="1854.4" font-size="23.2" text-anchor="end" textLength="29.5" lengthAdjust="spacingAndGlyphs">80</text>
<text x="1242.8" y="1759.3" font-size="23.2" text-anchor="end" textLength="40.87" lengthAdjust="spacingAndGlyphs">100</text>
<text x="1297.5" y="2281.5" font-size="25.5" text-anchor="end" textLength="109.1" lengthAdjust="spacingAndGlyphs" font-style="italic" transform="rotate(-45 1297.5 2281.5)">MCEMP1</text>
<text x="1333.6" y="2281.5" font-size="25.5" text-anchor="end" textLength="97.64" lengthAdjust="spacingAndGlyphs" font-style="italic" transform="rotate(-45 1333.6 2281.5)">OR5M11</text>
<text x="1369.7" y="2281.5" font-size="25.5" text-anchor="end" textLength="105.23" lengthAdjust="spacingAndGlyphs" font-style="italic" transform="rotate(-45 1369.7 2281.5)">RPGRIP1</text>
<text x="1405.8" y="2281.5" font-size="25.5" text-anchor="end" textLength="72.18" lengthAdjust="spacingAndGlyphs" font-style="italic" transform="rotate(-45 1405.8 2281.5)">F2RL1</text>
<text x="1441.9" y="2281.5" font-size="25.5" text-anchor="end" textLength="64.72" lengthAdjust="spacingAndGlyphs" font-style="italic" transform="rotate(-45 1441.9 2281.5)">GEN1</text>
<text x="1478" y="2281.5" font-size="25.5" text-anchor="end" textLength="70.85" lengthAdjust="spacingAndGlyphs" font-style="italic" transform="rotate(-45 1478 2281.5)">PNKD</text>
<text x="1514.1" y="2281.5" font-size="25.5" text-anchor="end" textLength="140.53" lengthAdjust="spacingAndGlyphs" font-style="italic" transform="rotate(-45 1514.1 2281.5)">MIR34BHG</text>
<text x="1550.2" y="2281.5" font-size="25.5" text-anchor="end" textLength="69.8" lengthAdjust="spacingAndGlyphs" font-style="italic" transform="rotate(-45 1550.2 2281.5)">GYPB</text>
<text x="1586.3" y="2281.5" font-size="25.5" text-anchor="end" textLength="85.33" lengthAdjust="spacingAndGlyphs" font-style="italic" transform="rotate(-45 1586.3 2281.5)">CXCL2</text>
<text x="1622.4" y="2281.5" font-size="25.5" text-anchor="end" textLength="141.33" lengthAdjust="spacingAndGlyphs" font-style="italic" transform="rotate(-45 1622.4 2281.5)">KRTAP20-2</text>
<path d="M1254.4 2226.4H1264M1254.4 2131.3H1264M1254.4 2036.2H1264M1254.4 1941.1H1264M1254.4 1846H1264M1254.4 1750.9H1264M1285.8 2250.3v9.6M1321.9 2250.3v9.6M1358 2250.3v9.6M1394.1 2250.3v9.6M1430.2 2250.3v9.6M1466.3 2250.3v9.6M1502.4 2250.3v9.6M1538.5 2250.3v9.6M1574.6 2250.3v9.6M1610.7 2250.3v9.6" fill="none" stroke="#262626" stroke-width="1.45"/>
<text x="1264.6" y="1714.8" font-size="27" textLength="92" lengthAdjust="spacingAndGlyphs">Cox PH</text>
<text font-size="27" transform="translate(1178.5 2078.9) rotate(-90)"><tspan x="0" textLength="134.3" lengthAdjust="spacingAndGlyphs">Frequency</tspan><tspan x="134.8" textLength="46.6" lengthAdjust="spacingAndGlyphs"> (%)</tspan></text>
<rect x="1801.05" y="2034.6" width="29.1" height="189.4" fill="#eb6f5d"/>
<rect x="1801.05" y="1750.5" width="29.1" height="284.1" fill="#999999"/>
<rect x="1837.15" y="2034.6" width="29.1" height="189.4" fill="#eb6f5d"/>
<rect x="1837.15" y="1750.5" width="29.1" height="284.1" fill="#999999"/>
<rect x="1873.25" y="1845.2" width="29.1" height="378.8" fill="#eb6f5d"/>
<rect x="1873.25" y="1750.5" width="29.1" height="94.7" fill="#999999"/>
<rect x="1909.35" y="1845.2" width="29.1" height="378.8" fill="#6376a0"/>
<rect x="1909.35" y="1750.5" width="29.1" height="94.7" fill="#999999"/>
<rect x="1945.45" y="1845.2" width="29.1" height="378.8" fill="#eb6f5d"/>
<rect x="1945.45" y="1750.5" width="29.1" height="94.7" fill="#999999"/>
<rect x="1981.55" y="1939.9" width="29.1" height="284.1" fill="#eb6f5d"/>
<rect x="1981.55" y="1750.5" width="29.1" height="189.4" fill="#999999"/>
<rect x="2017.65" y="2129.3" width="29.1" height="94.7" fill="#eb6f5d"/>
<rect x="2017.65" y="1750.5" width="29.1" height="378.8" fill="#999999"/>
<rect x="2053.75" y="1845.2" width="29.1" height="378.8" fill="#6376a0"/>
<rect x="2053.75" y="1750.5" width="29.1" height="94.7" fill="#999999"/>
<rect x="2089.85" y="2034.6" width="29.1" height="189.4" fill="#6376a0"/>
<rect x="2089.85" y="1750.5" width="29.1" height="284.1" fill="#999999"/>
<rect x="2125.95" y="1939.9" width="29.1" height="284.1" fill="#eb6f5d"/>
<rect x="2125.95" y="1750.5" width="29.1" height="189.4" fill="#999999"/>
<rect x="1793.7" y="1726.9" width="368.6" height="520.7" fill="none" stroke="#1c1c1c" stroke-width="1.5"/>
<text x="1772" y="2232.4" font-size="23.2" text-anchor="end" textLength="16.04" lengthAdjust="spacingAndGlyphs">0</text>
<text x="1772" y="2137.7" font-size="23.2" text-anchor="end" textLength="29.15" lengthAdjust="spacingAndGlyphs">20</text>
<text x="1772" y="2043" font-size="23.2" text-anchor="end" textLength="29.73" lengthAdjust="spacingAndGlyphs">40</text>
<text x="1772" y="1948.3" font-size="23.2" text-anchor="end" textLength="29.73" lengthAdjust="spacingAndGlyphs">60</text>
<text x="1772" y="1853.6" font-size="23.2" text-anchor="end" textLength="29.5" lengthAdjust="spacingAndGlyphs">80</text>
<text x="1772" y="1758.9" font-size="23.2" text-anchor="end" textLength="40.87" lengthAdjust="spacingAndGlyphs">100</text>
<text x="1827.3" y="2279.9" font-size="25.5" text-anchor="end" textLength="97.64" lengthAdjust="spacingAndGlyphs" font-style="italic" transform="rotate(-45 1827.3 2279.9)">OR5M11</text>
<text x="1863.4" y="2279.9" font-size="25.5" text-anchor="end" textLength="135.42" lengthAdjust="spacingAndGlyphs" font-style="italic" transform="rotate(-45 1863.4 2279.9)">CATSPERB</text>
<text x="1899.5" y="2279.9" font-size="25.5" text-anchor="end" textLength="104.87" lengthAdjust="spacingAndGlyphs" font-style="italic" transform="rotate(-45 1899.5 2279.9)">CLEC3A</text>
<text x="1935.6" y="2279.9" font-size="25.5" text-anchor="end" textLength="124.57" lengthAdjust="spacingAndGlyphs" font-style="italic" transform="rotate(-45 1935.6 2279.9)">WEE2-AS1</text>
<text x="1971.7" y="2279.9" font-size="25.5" text-anchor="end" textLength="64.56" lengthAdjust="spacingAndGlyphs" font-style="italic" transform="rotate(-45 1971.7 2279.9)">LSG1</text>
<text x="2007.8" y="2279.9" font-size="25.5" text-anchor="end" textLength="106.98" lengthAdjust="spacingAndGlyphs" font-style="italic" transform="rotate(-45 2007.8 2279.9)">SRGAP2</text>
<text x="2043.9" y="2279.9" font-size="25.5" text-anchor="end" textLength="68.04" lengthAdjust="spacingAndGlyphs" font-style="italic" transform="rotate(-45 2043.9 2279.9)">NCR1</text>
<text x="2080" y="2279.9" font-size="25.5" text-anchor="end" textLength="105.23" lengthAdjust="spacingAndGlyphs" font-style="italic" transform="rotate(-45 2080 2279.9)">RPGRIP1</text>
<text x="2116.1" y="2279.9" font-size="25.5" text-anchor="end" textLength="104.55" lengthAdjust="spacingAndGlyphs" font-style="italic" transform="rotate(-45 2116.1 2279.9)">WRAP73</text>
<text x="2152.2" y="2279.9" font-size="25.5" text-anchor="end" textLength="72.18" lengthAdjust="spacingAndGlyphs" font-style="italic" transform="rotate(-45 2152.2 2279.9)">F2RL1</text>
<path d="M1784.1 2224H1793.7M1784.1 2129.3H1793.7M1784.1 2034.6H1793.7M1784.1 1939.9H1793.7M1784.1 1845.2H1793.7M1784.1 1750.5H1793.7M1815.6 2247.6v9.6M1851.7 2247.6v9.6M1887.8 2247.6v9.6M1923.9 2247.6v9.6M1960 2247.6v9.6M1996.1 2247.6v9.6M2032.2 2247.6v9.6M2068.3 2247.6v9.6M2104.4 2247.6v9.6M2140.5 2247.6v9.6" fill="none" stroke="#262626" stroke-width="1.45"/>
<text x="1794.3" y="1714.8" font-size="27" textLength="138.6" lengthAdjust="spacingAndGlyphs">Stable Cox</text>
<text font-size="27" transform="translate(1708 2077.9) rotate(-90)"><tspan x="0" textLength="134.3" lengthAdjust="spacingAndGlyphs">Frequency</tspan><tspan x="134.8" textLength="46.6" lengthAdjust="spacingAndGlyphs"> (%)</tspan></text>
<rect x="1406" y="1640.2" width="23.8" height="23.8" fill="#999999"/>
<text x="1442.9" y="1662" font-size="27" textLength="110" lengthAdjust="spacingAndGlyphs">No trend</text>
<rect x="1593.2" y="1640.2" width="23.8" height="23.8" fill="#eb6f5d"/>
<text x="1630.8" y="1662" font-size="27" textLength="169" lengthAdjust="spacingAndGlyphs">Unfavourable</text>
<rect x="1842.3" y="1640.2" width="23.8" height="23.8" fill="#6376a0"/>
<text x="1880" y="1662" font-size="27" textLength="139.5" lengthAdjust="spacingAndGlyphs">Favourable</text>
</svg>
</body>
</html>
